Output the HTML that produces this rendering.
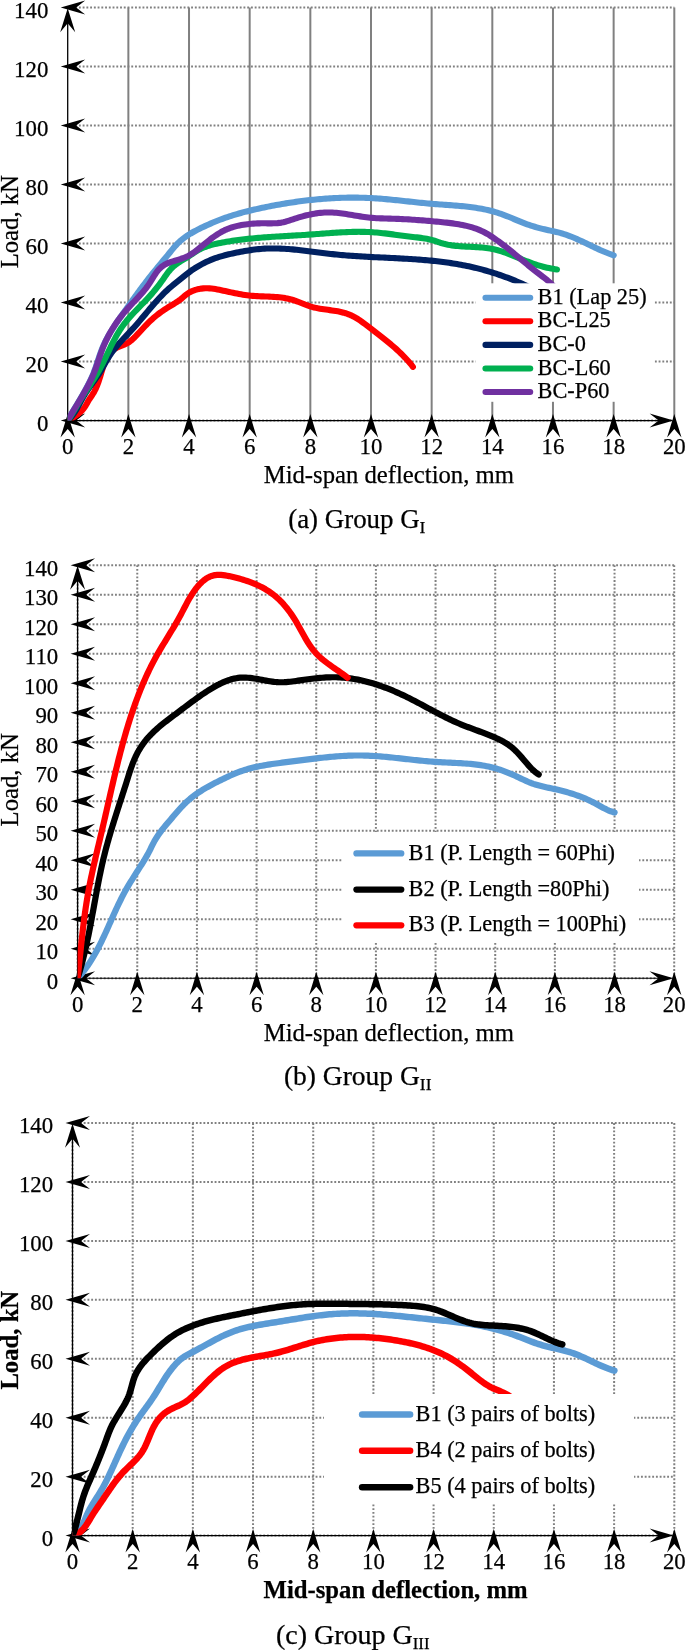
<!DOCTYPE html>
<html><head><meta charset="utf-8"><style>
html,body{margin:0;padding:0;background:#fff;}
svg{display:block;will-change:transform;}
text{font-family:"Liberation Serif",serif;fill:#000;white-space:pre;stroke:#000;stroke-width:0.25px;}
.tk{font-size:22.8px;}
.lg{font-size:22.3px;}
.ti{font-size:24.7px;}
.cp{}
</style></head><body>
<svg width="685" height="1650" viewBox="0 0 685 1650" xml:space="preserve">
<rect width="685" height="1650" fill="#fff"/>
<line x1="67.7" y1="420.6" x2="674.3" y2="420.6" stroke="#808080" stroke-width="2" stroke-dasharray="1.87 1.87"/>
<line x1="67.7" y1="361.6" x2="674.3" y2="361.6" stroke="#808080" stroke-width="2" stroke-dasharray="1.87 1.87"/>
<line x1="67.7" y1="302.6" x2="674.3" y2="302.6" stroke="#808080" stroke-width="2" stroke-dasharray="1.87 1.87"/>
<line x1="67.7" y1="243.6" x2="674.3" y2="243.6" stroke="#808080" stroke-width="2" stroke-dasharray="1.87 1.87"/>
<line x1="67.7" y1="184.6" x2="674.3" y2="184.6" stroke="#808080" stroke-width="2" stroke-dasharray="1.87 1.87"/>
<line x1="67.7" y1="125.6" x2="674.3" y2="125.6" stroke="#808080" stroke-width="2" stroke-dasharray="1.87 1.87"/>
<line x1="67.7" y1="66.6" x2="674.3" y2="66.6" stroke="#808080" stroke-width="2" stroke-dasharray="1.87 1.87"/>
<line x1="67.7" y1="7.6" x2="674.3" y2="7.6" stroke="#808080" stroke-width="2" stroke-dasharray="1.87 1.87"/>
<line x1="128.36" y1="7.6" x2="128.36" y2="420.6" stroke="#808080" stroke-width="2"/>
<line x1="189.02" y1="7.6" x2="189.02" y2="420.6" stroke="#808080" stroke-width="2"/>
<line x1="249.68" y1="7.6" x2="249.68" y2="420.6" stroke="#808080" stroke-width="2"/>
<line x1="310.34" y1="7.6" x2="310.34" y2="420.6" stroke="#808080" stroke-width="2"/>
<line x1="371" y1="7.6" x2="371" y2="420.6" stroke="#808080" stroke-width="2"/>
<line x1="431.66" y1="7.6" x2="431.66" y2="420.6" stroke="#808080" stroke-width="2"/>
<line x1="492.32" y1="7.6" x2="492.32" y2="420.6" stroke="#808080" stroke-width="2"/>
<line x1="552.98" y1="7.6" x2="552.98" y2="420.6" stroke="#808080" stroke-width="2"/>
<line x1="613.64" y1="7.6" x2="613.64" y2="420.6" stroke="#808080" stroke-width="2"/>
<line x1="674.3" y1="7.6" x2="674.3" y2="420.6" stroke="#808080" stroke-width="2"/>
<line x1="67.7" y1="15.6" x2="67.7" y2="420.6" stroke="#000" stroke-width="1.3"/>
<line x1="67.7" y1="420.6" x2="666.3" y2="420.6" stroke="#000" stroke-width="1.1"/>
<path d="M60.7,420.6 L85.2,413.6 L76.2,420.6 L85.2,427.6 Z"/>
<path d="M60.7,361.6 L85.2,354.6 L76.2,361.6 L85.2,368.6 Z"/>
<path d="M60.7,302.6 L85.2,295.6 L76.2,302.6 L85.2,309.6 Z"/>
<path d="M60.7,243.6 L85.2,236.6 L76.2,243.6 L85.2,250.6 Z"/>
<path d="M60.7,184.6 L85.2,177.6 L76.2,184.6 L85.2,191.6 Z"/>
<path d="M60.7,125.6 L85.2,118.6 L76.2,125.6 L85.2,132.6 Z"/>
<path d="M60.7,66.6 L85.2,59.6 L76.2,66.6 L85.2,73.6 Z"/>
<path d="M60.7,7.6 L85.2,0.6 L76.2,7.6 L85.2,14.6 Z"/>
<path d="M67.7,414.1 L60.5,437.6 L67.7,429.1 L74.9,437.6 Z"/>
<path d="M128.36,414.1 L121.16,437.6 L128.36,429.1 L135.56,437.6 Z"/>
<path d="M189.02,414.1 L181.82,437.6 L189.02,429.1 L196.22,437.6 Z"/>
<path d="M249.68,414.1 L242.48,437.6 L249.68,429.1 L256.88,437.6 Z"/>
<path d="M310.34,414.1 L303.14,437.6 L310.34,429.1 L317.54,437.6 Z"/>
<path d="M371,414.1 L363.8,437.6 L371,429.1 L378.2,437.6 Z"/>
<path d="M431.66,414.1 L424.46,437.6 L431.66,429.1 L438.86,437.6 Z"/>
<path d="M492.32,414.1 L485.12,437.6 L492.32,429.1 L499.52,437.6 Z"/>
<path d="M552.98,414.1 L545.78,437.6 L552.98,429.1 L560.18,437.6 Z"/>
<path d="M613.64,414.1 L606.44,437.6 L613.64,429.1 L620.84,437.6 Z"/>
<path d="M674.3,414.1 L667.1,437.6 L674.3,429.1 L681.5,437.6 Z"/>
<path d="M67.7,8.3 L60.2,32.3 L67.7,23.3 L75.2,32.3 Z"/>
<path d="M673.6,420.6 L649.6,413.6 L658.6,420.6 L649.6,427.6 Z"/>
<clipPath id="ca"><rect x="67.7" y="4.6" width="609.6" height="416"/></clipPath>
<g clip-path="url(#ca)">
<path d="M67.7,420.6 L68.65,418.84 L69.62,417.09 L70.6,415.34 L71.59,413.6 L72.6,411.87 L73.61,410.13 L74.63,408.4 L75.66,406.67 L76.68,404.95 L77.71,403.22 L78.74,401.49 L79.77,399.76 L80.79,398.03 L81.8,396.29 L82.81,394.56 L83.81,392.81 L84.79,391.06 L85.76,389.3 L86.71,387.54 L87.65,385.77 L88.57,383.99 L89.46,382.19 L90.33,380.39 L91.17,378.58 L91.99,376.75 L92.78,374.91 L93.54,373.06 L94.26,371.19 L94.95,369.31 L95.62,367.41 L96.27,365.51 L96.91,363.6 L97.54,361.69 L98.17,359.78 L98.8,357.87 L99.44,355.97 L100.1,354.07 L100.77,352.18 L101.47,350.31 L102.21,348.45 L102.98,346.61 L103.79,344.78 L104.63,342.97 L105.51,341.18 L106.42,339.41 L107.36,337.65 L108.33,335.9 L109.32,334.16 L110.34,332.44 L111.38,330.73 L112.45,329.03 L113.53,327.34 L114.63,325.66 L115.74,323.98 L116.87,322.32 L118.01,320.66 L119.16,319 L120.31,317.35 L121.48,315.71 L122.64,314.07 L123.81,312.43 L124.98,310.79 L126.15,309.15 L127.31,307.52 L128.48,305.88 L129.65,304.25 L130.81,302.62 L131.98,300.99 L133.15,299.36 L134.32,297.74 L135.49,296.11 L136.67,294.49 L137.84,292.87 L139.03,291.26 L140.21,289.65 L141.4,288.04 L142.6,286.43 L143.8,284.83 L145.01,283.24 L146.22,281.64 L147.44,280.05 L148.67,278.47 L149.9,276.89 L151.15,275.31 L152.4,273.74 L153.66,272.18 L154.93,270.61 L156.2,269.06 L157.48,267.5 L158.77,265.95 L160.05,264.4 L161.34,262.84 L162.63,261.29 L163.91,259.74 L165.2,258.19 L166.48,256.64 L167.76,255.08 L169.03,253.52 L170.29,251.96 L171.56,250.4 L172.83,248.86 L174.12,247.34 L175.44,245.84 L176.78,244.39 L178.16,242.98 L179.58,241.62 L181.05,240.32 L182.57,239.08 L184.12,237.88 L185.72,236.72 L187.35,235.61 L189.01,234.54 L190.7,233.5 L192.42,232.5 L194.16,231.53 L195.92,230.58 L197.71,229.65 L199.51,228.75 L201.32,227.86 L203.15,226.98 L204.98,226.12 L206.82,225.27 L208.67,224.43 L210.53,223.61 L212.39,222.8 L214.26,222.01 L216.14,221.24 L218.01,220.49 L219.9,219.77 L221.78,219.06 L223.67,218.37 L225.57,217.7 L227.47,217.05 L229.37,216.41 L231.27,215.8 L233.18,215.2 L235.09,214.62 L237.01,214.05 L238.93,213.5 L240.85,212.96 L242.78,212.43 L244.71,211.92 L246.64,211.43 L248.58,210.94 L250.52,210.47 L252.46,210 L254.4,209.55 L256.35,209.1 L258.3,208.67 L260.25,208.24 L262.21,207.83 L264.17,207.42 L266.13,207.01 L268.09,206.62 L270.05,206.23 L272.02,205.85 L273.99,205.47 L275.96,205.1 L277.94,204.74 L279.92,204.39 L281.89,204.05 L283.87,203.71 L285.86,203.38 L287.84,203.06 L289.83,202.75 L291.81,202.45 L293.8,202.15 L295.79,201.86 L297.78,201.58 L299.78,201.31 L301.77,201.05 L303.77,200.8 L305.77,200.55 L307.76,200.32 L309.76,200.09 L311.76,199.88 L313.76,199.67 L315.77,199.47 L317.77,199.28 L319.77,199.1 L321.78,198.93 L323.78,198.77 L325.79,198.63 L327.79,198.49 L329.8,198.36 L331.8,198.24 L333.81,198.13 L335.82,198.03 L337.82,197.94 L339.83,197.86 L341.84,197.79 L343.84,197.74 L345.85,197.69 L347.85,197.66 L349.86,197.63 L351.87,197.62 L353.87,197.62 L355.87,197.63 L357.88,197.65 L359.88,197.69 L361.88,197.73 L363.89,197.79 L365.89,197.85 L367.89,197.93 L369.89,198.03 L371.88,198.13 L373.88,198.25 L375.88,198.38 L377.87,198.51 L379.86,198.66 L381.86,198.82 L383.85,198.98 L385.84,199.16 L387.83,199.34 L389.83,199.53 L391.82,199.72 L393.81,199.92 L395.8,200.12 L397.79,200.33 L399.78,200.54 L401.78,200.75 L403.77,200.97 L405.76,201.18 L407.75,201.4 L409.75,201.62 L411.74,201.83 L413.74,202.05 L415.74,202.26 L417.73,202.47 L419.73,202.68 L421.73,202.88 L423.73,203.08 L425.74,203.27 L427.74,203.46 L429.75,203.64 L431.76,203.81 L433.76,203.97 L435.78,204.13 L437.79,204.28 L439.8,204.43 L441.82,204.58 L443.83,204.72 L445.85,204.86 L447.86,205 L449.87,205.15 L451.89,205.3 L453.9,205.45 L455.91,205.61 L457.92,205.78 L459.92,205.96 L461.93,206.14 L463.93,206.34 L465.93,206.55 L467.92,206.78 L469.91,207.01 L471.9,207.27 L473.89,207.55 L475.87,207.84 L477.84,208.15 L479.81,208.49 L481.77,208.85 L483.73,209.23 L485.68,209.64 L487.63,210.08 L489.57,210.54 L491.5,211.03 L493.43,211.56 L495.35,212.11 L497.26,212.7 L499.16,213.31 L501.06,213.96 L502.94,214.62 L504.82,215.32 L506.7,216.03 L508.56,216.77 L510.42,217.53 L512.27,218.31 L514.12,219.1 L515.96,219.89 L517.81,220.67 L519.66,221.43 L521.52,222.18 L523.39,222.9 L525.26,223.6 L527.14,224.27 L529.03,224.93 L530.93,225.56 L532.83,226.17 L534.75,226.75 L536.67,227.32 L538.6,227.86 L540.53,228.37 L542.48,228.86 L544.43,229.33 L546.4,229.78 L548.37,230.21 L550.34,230.63 L552.31,231.05 L554.28,231.47 L556.25,231.92 L558.2,232.39 L560.14,232.9 L562.07,233.45 L563.98,234.05 L565.88,234.68 L567.76,235.34 L569.63,236.04 L571.49,236.77 L573.34,237.53 L575.19,238.31 L577.02,239.11 L578.85,239.93 L580.67,240.76 L582.49,241.61 L584.31,242.47 L586.12,243.34 L587.93,244.21 L589.74,245.08 L591.55,245.95 L593.36,246.82 L595.18,247.68 L597,248.53 L598.82,249.37 L600.65,250.2 L602.48,251 L604.33,251.79 L606.18,252.55 L608.04,253.28 L609.92,253.99 L611.8,254.66 L613.7,255.3" fill="none" stroke="#5B9BD5" stroke-width="6.1" stroke-linecap="round" stroke-linejoin="round"/>
<path d="M67.7,420.6 L69.39,419.7 L71.12,418.74 L72.85,417.7 L74.57,416.6 L76.27,415.43 L77.92,414.19 L79.5,412.88 L81,411.5 L82.4,410.06 L83.68,408.54 L84.82,406.96 L85.83,405.32 L86.78,403.64 L87.73,401.92 L88.75,400.19 L89.89,398.46 L91.09,396.73 L92.27,394.99 L93.37,393.23 L94.37,391.46 L95.29,389.66 L96.13,387.86 L96.91,386.04 L97.63,384.2 L98.3,382.35 L98.94,380.49 L99.55,378.61 L100.14,376.72 L100.71,374.82 L101.29,372.91 L101.87,370.98 L102.46,369.05 L103.09,367.11 L103.74,365.16 L104.44,363.2 L105.2,361.24 L106.02,359.31 L106.92,357.44 L107.93,355.65 L109.04,353.96 L110.27,352.4 L111.65,350.99 L113.17,349.77 L114.84,348.71 L116.61,347.79 L118.47,346.97 L120.37,346.2 L122.28,345.44 L124.18,344.67 L126.02,343.83 L127.78,342.89 L129.44,341.82 L131,340.63 L132.48,339.35 L133.92,338 L135.33,336.6 L136.72,335.17 L138.1,333.71 L139.46,332.23 L140.82,330.73 L142.19,329.23 L143.56,327.74 L144.94,326.25 L146.34,324.78 L147.76,323.33 L149.21,321.91 L150.68,320.52 L152.18,319.16 L153.7,317.82 L155.24,316.52 L156.81,315.24 L158.4,314 L160.01,312.78 L161.64,311.6 L163.3,310.45 L164.97,309.33 L166.67,308.25 L168.38,307.19 L170.11,306.16 L171.84,305.13 L173.56,304.09 L175.27,303.03 L176.96,301.93 L178.61,300.78 L180.23,299.57 L181.8,298.29 L183.35,296.98 L184.91,295.68 L186.5,294.42 L188.14,293.26 L189.86,292.22 L191.65,291.31 L193.5,290.54 L195.41,289.88 L197.36,289.34 L199.35,288.92 L201.37,288.61 L203.4,288.4 L205.44,288.29 L207.48,288.28 L209.51,288.37 L211.51,288.53 L213.5,288.78 L215.46,289.09 L217.42,289.44 L219.37,289.83 L221.32,290.23 L223.28,290.65 L225.23,291.08 L227.19,291.5 L229.15,291.93 L231.12,292.36 L233.09,292.78 L235.06,293.18 L237.03,293.58 L239.01,293.96 L241,294.32 L242.99,294.65 L244.99,294.96 L246.99,295.24 L249,295.49 L251.01,295.7 L253.03,295.88 L255.06,296.02 L257.08,296.14 L259.12,296.24 L261.15,296.33 L263.18,296.41 L265.22,296.48 L267.25,296.56 L269.28,296.64 L271.3,296.73 L273.32,296.84 L275.34,296.97 L277.35,297.13 L279.35,297.32 L281.34,297.55 L283.32,297.81 L285.29,298.13 L287.25,298.5 L289.2,298.93 L291.13,299.42 L293.05,299.98 L294.96,300.6 L296.85,301.29 L298.73,302.01 L300.61,302.76 L302.49,303.52 L304.37,304.28 L306.26,305.01 L308.16,305.7 L310.07,306.34 L312.01,306.92 L313.96,307.43 L315.92,307.88 L317.9,308.29 L319.89,308.65 L321.88,308.98 L323.89,309.28 L325.89,309.56 L327.89,309.84 L329.9,310.11 L331.89,310.4 L333.88,310.69 L335.86,311.01 L337.83,311.36 L339.79,311.75 L341.72,312.18 L343.64,312.67 L345.54,313.22 L347.41,313.85 L349.25,314.55 L351.07,315.33 L352.86,316.2 L354.62,317.14 L356.36,318.14 L358.08,319.2 L359.77,320.31 L361.46,321.46 L363.12,322.65 L364.78,323.87 L366.42,325.11 L368.05,326.37 L369.68,327.63 L371.3,328.89 L372.91,330.14 L374.52,331.4 L376.13,332.64 L377.74,333.89 L379.33,335.13 L380.92,336.37 L382.51,337.62 L384.08,338.87 L385.65,340.12 L387.2,341.38 L388.75,342.65 L390.29,343.93 L391.81,345.21 L393.33,346.51 L394.83,347.83 L396.32,349.15 L397.79,350.5 L399.25,351.86 L400.69,353.24 L402.12,354.65 L403.53,356.07 L404.93,357.52 L406.31,359 L407.66,360.5 L409,362.03 L410.32,363.59 L411.62,365.18 L412.9,366.8" fill="none" stroke="#FF0000" stroke-width="6.1" stroke-linecap="round" stroke-linejoin="round"/>
<path d="M67.7,420.6 L69.19,419.18 L70.57,417.69 L71.87,416.16 L73.08,414.57 L74.23,412.94 L75.32,411.27 L76.35,409.57 L77.35,407.84 L78.31,406.1 L79.26,404.34 L80.2,402.57 L81.13,400.8 L82.08,399.04 L83.05,397.29 L84.05,395.56 L85.09,393.85 L86.17,392.16 L87.28,390.49 L88.42,388.84 L89.58,387.19 L90.75,385.56 L91.94,383.93 L93.13,382.3 L94.31,380.66 L95.49,379.02 L96.65,377.37 L97.78,375.71 L98.9,374.03 L99.98,372.32 L101.02,370.6 L102.03,368.85 L103.03,367.1 L104.01,365.34 L104.98,363.57 L105.96,361.81 L106.95,360.07 L107.97,358.34 L109.01,356.63 L110.09,354.94 L111.21,353.29 L112.37,351.67 L113.57,350.08 L114.8,348.51 L116.07,346.96 L117.36,345.43 L118.67,343.92 L120.01,342.43 L121.36,340.94 L122.73,339.47 L124.1,338 L125.49,336.54 L126.87,335.07 L128.26,333.61 L129.64,332.14 L131.02,330.67 L132.39,329.19 L133.74,327.7 L135.08,326.2 L136.42,324.69 L137.74,323.17 L139.05,321.64 L140.35,320.11 L141.65,318.57 L142.95,317.03 L144.24,315.49 L145.54,313.94 L146.83,312.4 L148.12,310.86 L149.42,309.32 L150.72,307.78 L152.03,306.25 L153.34,304.72 L154.66,303.21 L155.99,301.7 L157.34,300.2 L158.69,298.72 L160.06,297.25 L161.45,295.8 L162.85,294.36 L164.27,292.95 L165.71,291.56 L167.17,290.19 L168.65,288.85 L170.16,287.53 L171.69,286.24 L173.24,284.98 L174.8,283.73 L176.37,282.48 L177.93,281.23 L179.49,279.98 L181.04,278.71 L182.59,277.44 L184.14,276.17 L185.7,274.91 L187.27,273.67 L188.86,272.46 L190.47,271.27 L192.11,270.11 L193.77,268.99 L195.46,267.9 L197.17,266.85 L198.9,265.83 L200.65,264.84 L202.42,263.89 L204.21,262.97 L206.02,262.09 L207.84,261.25 L209.68,260.44 L211.54,259.67 L213.41,258.93 L215.29,258.23 L217.19,257.57 L219.09,256.95 L221.01,256.37 L222.94,255.81 L224.88,255.29 L226.82,254.79 L228.78,254.32 L230.74,253.87 L232.71,253.43 L234.68,253 L236.66,252.59 L238.64,252.19 L240.62,251.8 L242.61,251.43 L244.6,251.07 L246.6,250.73 L248.6,250.41 L250.6,250.11 L252.6,249.83 L254.6,249.57 L256.61,249.34 L258.61,249.13 L260.61,248.94 L262.62,248.79 L264.62,248.66 L266.63,248.56 L268.63,248.49 L270.63,248.44 L272.63,248.43 L274.63,248.43 L276.64,248.46 L278.64,248.51 L280.64,248.59 L282.63,248.68 L284.63,248.79 L286.63,248.92 L288.63,249.07 L290.63,249.23 L292.63,249.41 L294.63,249.59 L296.63,249.8 L298.62,250.01 L300.62,250.23 L302.62,250.46 L304.62,250.7 L306.62,250.94 L308.62,251.19 L310.62,251.44 L312.62,251.69 L314.62,251.95 L316.62,252.21 L318.62,252.46 L320.62,252.72 L322.63,252.97 L324.63,253.22 L326.63,253.46 L328.64,253.7 L330.64,253.93 L332.65,254.15 L334.66,254.36 L336.67,254.56 L338.67,254.75 L340.68,254.94 L342.69,255.11 L344.7,255.28 L346.72,255.45 L348.73,255.6 L350.74,255.75 L352.75,255.89 L354.77,256.03 L356.78,256.16 L358.79,256.29 L360.81,256.41 L362.82,256.53 L364.84,256.65 L366.85,256.76 L368.87,256.87 L370.88,256.97 L372.9,257.08 L374.91,257.18 L376.93,257.28 L378.94,257.38 L380.96,257.47 L382.97,257.57 L384.99,257.67 L387,257.76 L389.01,257.86 L391.03,257.96 L393.04,258.06 L395.05,258.16 L397.06,258.26 L399.08,258.37 L401.09,258.47 L403.1,258.58 L405.11,258.7 L407.12,258.82 L409.12,258.94 L411.13,259.07 L413.14,259.2 L415.14,259.33 L417.15,259.48 L419.15,259.63 L421.16,259.78 L423.16,259.94 L425.16,260.11 L427.16,260.29 L429.16,260.47 L431.15,260.66 L433.15,260.86 L435.15,261.07 L437.14,261.29 L439.13,261.52 L441.12,261.76 L443.11,262 L445.1,262.26 L447.08,262.53 L449.07,262.82 L451.05,263.11 L453.03,263.41 L455.01,263.73 L456.99,264.06 L458.96,264.41 L460.94,264.76 L462.91,265.14 L464.88,265.52 L466.85,265.92 L468.81,266.34 L470.78,266.77 L472.74,267.21 L474.7,267.67 L476.65,268.15 L478.61,268.64 L480.56,269.14 L482.5,269.66 L484.45,270.2 L486.39,270.74 L488.32,271.31 L490.25,271.88 L492.18,272.47 L494.1,273.08 L496.02,273.7 L497.94,274.34 L499.85,274.99 L501.75,275.65 L503.65,276.33 L505.55,277.02 L507.44,277.73 L509.32,278.45 L511.2,279.18 L513.07,279.93 L514.93,280.69 L516.79,281.47 L518.64,282.26 L520.49,283.06 L522.33,283.88 L524.16,284.72 L525.99,285.56 L527.81,286.42 L529.62,287.3 L531.42,288.18 L533.21,289.09 L535,290" fill="none" stroke="#002060" stroke-width="6.1" stroke-linecap="round" stroke-linejoin="round"/>
<path d="M67.7,420.6 L68.85,418.96 L69.97,417.29 L71.06,415.6 L72.12,413.9 L73.17,412.17 L74.19,410.44 L75.21,408.69 L76.23,406.95 L77.24,405.2 L78.26,403.45 L79.28,401.71 L80.32,399.98 L81.37,398.26 L82.45,396.56 L83.53,394.86 L84.63,393.17 L85.73,391.49 L86.84,389.82 L87.95,388.14 L89.06,386.47 L90.17,384.8 L91.27,383.12 L92.36,381.44 L93.45,379.76 L94.52,378.06 L95.57,376.36 L96.6,374.64 L97.62,372.92 L98.61,371.17 L99.57,369.42 L100.52,367.65 L101.45,365.86 L102.36,364.07 L103.26,362.27 L104.15,360.47 L105.03,358.66 L105.9,356.84 L106.77,355.02 L107.64,353.21 L108.51,351.39 L109.38,349.57 L110.25,347.76 L111.14,345.96 L112.03,344.16 L112.94,342.37 L113.86,340.59 L114.8,338.82 L115.76,337.06 L116.74,335.32 L117.74,333.59 L118.78,331.88 L119.84,330.19 L120.93,328.52 L122.05,326.88 L123.21,325.25 L124.41,323.65 L125.65,322.07 L126.91,320.52 L128.21,318.98 L129.53,317.46 L130.87,315.95 L132.23,314.46 L133.62,312.98 L135.01,311.51 L136.42,310.04 L137.83,308.59 L139.25,307.13 L140.67,305.68 L142.09,304.22 L143.5,302.77 L144.91,301.31 L146.31,299.85 L147.7,298.37 L149.07,296.89 L150.42,295.4 L151.75,293.89 L153.06,292.37 L154.35,290.83 L155.61,289.28 L156.86,287.71 L158.09,286.13 L159.31,284.54 L160.51,282.93 L161.69,281.3 L162.85,279.65 L164.01,277.99 L165.16,276.33 L166.32,274.68 L167.51,273.06 L168.73,271.47 L170,269.94 L171.33,268.48 L172.73,267.09 L174.2,265.8 L175.75,264.58 L177.36,263.43 L179.02,262.33 L180.71,261.27 L182.44,260.22 L184.17,259.19 L185.91,258.14 L187.64,257.08 L189.34,255.98 L191.03,254.84 L192.71,253.7 L194.4,252.57 L196.09,251.47 L197.8,250.42 L199.55,249.45 L201.33,248.56 L203.15,247.75 L204.99,247.01 L206.86,246.33 L208.76,245.71 L210.67,245.14 L212.61,244.62 L214.55,244.14 L216.51,243.7 L218.48,243.28 L220.46,242.89 L222.43,242.51 L224.41,242.15 L226.39,241.8 L228.37,241.47 L230.36,241.15 L232.34,240.84 L234.33,240.55 L236.32,240.27 L238.31,240 L240.31,239.74 L242.3,239.49 L244.3,239.26 L246.29,239.03 L248.29,238.82 L250.29,238.61 L252.29,238.42 L254.3,238.23 L256.3,238.05 L258.3,237.87 L260.31,237.71 L262.32,237.55 L264.32,237.4 L266.33,237.25 L268.34,237.11 L270.35,236.97 L272.36,236.83 L274.37,236.71 L276.38,236.58 L278.39,236.46 L280.41,236.34 L282.42,236.22 L284.43,236.1 L286.45,235.98 L288.46,235.87 L290.47,235.75 L292.49,235.64 L294.5,235.52 L296.51,235.41 L298.53,235.29 L300.54,235.17 L302.55,235.05 L304.56,234.92 L306.58,234.79 L308.59,234.66 L310.6,234.52 L312.61,234.38 L314.62,234.23 L316.63,234.08 L318.64,233.93 L320.65,233.78 L322.66,233.63 L324.67,233.47 L326.67,233.32 L328.68,233.17 L330.69,233.03 L332.69,232.89 L334.7,232.75 L336.71,232.62 L338.71,232.5 L340.72,232.38 L342.72,232.27 L344.73,232.18 L346.73,232.09 L348.74,232.01 L350.74,231.95 L352.75,231.89 L354.75,231.86 L356.76,231.83 L358.76,231.82 L360.76,231.83 L362.77,231.86 L364.77,231.9 L366.78,231.96 L368.78,232.05 L370.79,232.15 L372.79,232.28 L374.8,232.42 L376.8,232.58 L378.81,232.77 L380.81,232.96 L382.82,233.17 L384.82,233.4 L386.83,233.63 L388.83,233.88 L390.84,234.13 L392.84,234.38 L394.85,234.65 L396.85,234.91 L398.85,235.18 L400.85,235.44 L402.85,235.71 L404.85,235.97 L406.85,236.22 L408.85,236.47 L410.85,236.71 L412.85,236.95 L414.84,237.17 L416.84,237.4 L418.83,237.64 L420.81,237.89 L422.79,238.17 L424.76,238.48 L426.73,238.83 L428.68,239.22 L430.62,239.67 L432.56,240.18 L434.48,240.75 L436.39,241.4 L438.29,242.08 L440.2,242.73 L442.12,243.32 L444.06,243.84 L446.01,244.31 L447.97,244.71 L449.94,245.06 L451.92,245.37 L453.91,245.63 L455.91,245.86 L457.92,246.05 L459.93,246.21 L461.95,246.35 L463.96,246.47 L465.99,246.58 L468.01,246.68 L470.03,246.78 L472.06,246.87 L474.08,246.97 L476.1,247.08 L478.11,247.2 L480.12,247.35 L482.12,247.52 L484.12,247.71 L486.11,247.94 L488.09,248.21 L490.06,248.53 L492.02,248.89 L493.96,249.3 L495.9,249.76 L497.82,250.27 L499.74,250.83 L501.64,251.42 L503.54,252.05 L505.43,252.71 L507.31,253.4 L509.19,254.12 L511.06,254.85 L512.93,255.6 L514.8,256.36 L516.67,257.13 L518.54,257.9 L520.4,258.68 L522.27,259.45 L524.14,260.22 L526.02,260.97 L527.9,261.71 L529.78,262.43 L531.67,263.12 L533.57,263.79 L535.47,264.44 L537.39,265.05 L539.31,265.63 L541.24,266.18 L543.17,266.71 L545.12,267.2 L547.08,267.66 L549.04,268.09 L551.02,268.49 L553,268.86 L555,269.2 L557,269.5" fill="none" stroke="#00B050" stroke-width="6.1" stroke-linecap="round" stroke-linejoin="round"/>
<path d="M67.7,420.6 L68.67,418.85 L69.65,417.11 L70.65,415.38 L71.66,413.64 L72.68,411.91 L73.71,410.18 L74.74,408.46 L75.78,406.73 L76.83,405 L77.87,403.27 L78.91,401.54 L79.95,399.81 L80.99,398.08 L82.02,396.34 L83.04,394.6 L84.05,392.85 L85.05,391.1 L86.03,389.34 L87,387.57 L87.94,385.8 L88.87,384.01 L89.78,382.22 L90.66,380.42 L91.52,378.61 L92.35,376.79 L93.15,374.95 L93.92,373.1 L94.66,371.24 L95.36,369.37 L96.04,367.49 L96.7,365.6 L97.35,363.7 L97.98,361.8 L98.62,359.9 L99.25,357.99 L99.89,356.09 L100.53,354.19 L101.2,352.3 L101.88,350.41 L102.6,348.53 L103.34,346.67 L104.12,344.81 L104.93,342.97 L105.77,341.14 L106.64,339.32 L107.54,337.52 L108.47,335.73 L109.43,333.96 L110.42,332.2 L111.44,330.46 L112.48,328.73 L113.56,327.01 L114.65,325.32 L115.78,323.64 L116.93,321.98 L118.1,320.33 L119.29,318.71 L120.51,317.1 L121.76,315.51 L123.02,313.94 L124.31,312.39 L125.61,310.86 L126.94,309.35 L128.28,307.86 L129.64,306.38 L131,304.92 L132.38,303.46 L133.76,302.01 L135.13,300.55 L136.51,299.1 L137.88,297.63 L139.23,296.16 L140.58,294.68 L141.9,293.18 L143.21,291.66 L144.49,290.12 L145.75,288.55 L146.97,286.95 L148.16,285.31 L149.31,283.64 L150.43,281.93 L151.51,280.2 L152.57,278.45 L153.64,276.71 L154.71,274.99 L155.82,273.32 L156.98,271.71 L158.2,270.18 L159.5,268.76 L160.89,267.44 L162.37,266.25 L163.94,265.17 L165.61,264.21 L167.35,263.36 L169.18,262.61 L171.06,261.94 L172.99,261.33 L174.94,260.74 L176.9,260.15 L178.85,259.55 L180.79,258.92 L182.7,258.25 L184.58,257.53 L186.43,256.74 L188.22,255.88 L189.96,254.94 L191.66,253.91 L193.31,252.82 L194.93,251.67 L196.52,250.47 L198.1,249.24 L199.67,247.98 L201.23,246.7 L202.8,245.41 L204.38,244.12 L205.96,242.83 L207.55,241.55 L209.15,240.28 L210.76,239.03 L212.39,237.81 L214.03,236.61 L215.69,235.45 L217.37,234.34 L219.08,233.27 L220.8,232.25 L222.56,231.29 L224.34,230.4 L226.15,229.58 L227.98,228.81 L229.84,228.11 L231.72,227.46 L233.63,226.88 L235.55,226.34 L237.49,225.86 L239.45,225.43 L241.42,225.05 L243.4,224.71 L245.39,224.41 L247.4,224.16 L249.41,223.94 L251.42,223.76 L253.44,223.61 L255.47,223.5 L257.49,223.41 L259.52,223.35 L261.54,223.32 L263.56,223.31 L265.57,223.32 L267.57,223.34 L269.57,223.35 L271.56,223.35 L273.55,223.31 L275.52,223.24 L277.49,223.1 L279.45,222.9 L281.4,222.61 L283.34,222.22 L285.27,221.74 L287.19,221.18 L289.11,220.58 L291.04,219.94 L292.96,219.29 L294.89,218.66 L296.82,218.04 L298.76,217.45 L300.71,216.87 L302.66,216.33 L304.62,215.8 L306.58,215.31 L308.54,214.85 L310.51,214.42 L312.48,214.03 L314.45,213.68 L316.43,213.36 L318.41,213.09 L320.4,212.87 L322.38,212.69 L324.37,212.55 L326.36,212.47 L328.35,212.45 L330.34,212.47 L332.33,212.55 L334.32,212.67 L336.32,212.82 L338.31,213.02 L340.31,213.25 L342.31,213.5 L344.31,213.78 L346.31,214.08 L348.31,214.39 L350.31,214.72 L352.31,215.05 L354.32,215.39 L356.32,215.72 L358.32,216.05 L360.33,216.37 L362.34,216.68 L364.34,216.98 L366.35,217.25 L368.36,217.49 L370.37,217.71 L372.37,217.9 L374.38,218.05 L376.39,218.17 L378.4,218.27 L380.41,218.35 L382.42,218.42 L384.43,218.48 L386.44,218.53 L388.45,218.58 L390.45,218.63 L392.46,218.69 L394.46,218.76 L396.47,218.83 L398.47,218.92 L400.47,219 L402.48,219.1 L404.48,219.2 L406.48,219.31 L408.48,219.42 L410.48,219.54 L412.49,219.67 L414.49,219.8 L416.49,219.94 L418.49,220.09 L420.5,220.24 L422.5,220.39 L424.5,220.55 L426.51,220.72 L428.52,220.89 L430.52,221.06 L432.53,221.24 L434.54,221.43 L436.55,221.61 L438.56,221.81 L440.58,222 L442.59,222.21 L444.61,222.42 L446.62,222.63 L448.64,222.86 L450.65,223.11 L452.66,223.37 L454.66,223.65 L456.65,223.95 L458.64,224.28 L460.62,224.63 L462.59,225.02 L464.56,225.43 L466.51,225.88 L468.44,226.36 L470.37,226.88 L472.28,227.45 L474.18,228.05 L476.05,228.71 L477.92,229.41 L479.76,230.16 L481.58,230.97 L483.39,231.83 L485.17,232.75 L486.93,233.72 L488.67,234.74 L490.39,235.8 L492.09,236.9 L493.78,238.04 L495.45,239.2 L497.11,240.37 L498.75,241.57 L500.38,242.77 L502,243.99 L503.6,245.21 L505.2,246.45 L506.78,247.69 L508.36,248.94 L509.93,250.2 L511.49,251.47 L513.05,252.74 L514.61,254.01 L516.15,255.29 L517.7,256.57 L519.25,257.85 L520.79,259.13 L522.33,260.41 L523.88,261.69 L525.42,262.97 L526.97,264.25 L528.52,265.52 L530.08,266.79 L531.64,268.05 L533.21,269.31 L534.79,270.56 L536.37,271.8 L537.97,273.03 L539.57,274.26 L541.17,275.48 L542.78,276.71 L544.37,277.94 L545.95,279.19 L547.51,280.47 L549.03,281.78 L550.53,283.12 L551.98,284.51 L553.37,285.94 L554.72,287.44 L556,289" fill="none" stroke="#7030A0" stroke-width="6.1" stroke-linecap="round" stroke-linejoin="round"/>
</g>
<rect x="475.5" y="283.3" width="179" height="118.5" fill="#fff"/>
<line x1="485.5" y1="297.7" x2="530.2" y2="297.7" stroke="#5B9BD5" stroke-width="6.1" stroke-linecap="round"/>
<text x="537.6" y="303.8" class="lg">B1 (Lap 25)</text>
<line x1="485.5" y1="321.3" x2="530.2" y2="321.3" stroke="#FF0000" stroke-width="6.1" stroke-linecap="round"/>
<text x="537.6" y="327.4" class="lg">BC-L25</text>
<line x1="485.5" y1="344.9" x2="530.2" y2="344.9" stroke="#002060" stroke-width="6.1" stroke-linecap="round"/>
<text x="537.6" y="351" class="lg">BC-0</text>
<line x1="485.5" y1="368.5" x2="530.2" y2="368.5" stroke="#00B050" stroke-width="6.1" stroke-linecap="round"/>
<text x="537.6" y="374.6" class="lg">BC-L60</text>
<line x1="485.5" y1="392" x2="530.2" y2="392" stroke="#7030A0" stroke-width="6.1" stroke-linecap="round"/>
<text x="537.6" y="398.1" class="lg">BC-P60</text>
<text x="48.3" y="431" class="tk" text-anchor="end">0</text>
<text x="48.3" y="372" class="tk" text-anchor="end">20</text>
<text x="48.3" y="313" class="tk" text-anchor="end">40</text>
<text x="48.3" y="254" class="tk" text-anchor="end">60</text>
<text x="48.3" y="195" class="tk" text-anchor="end">80</text>
<text x="48.3" y="136" class="tk" text-anchor="end">100</text>
<text x="48.3" y="77" class="tk" text-anchor="end">120</text>
<text x="48.3" y="18" class="tk" text-anchor="end">140</text>
<text x="67.7" y="454.2" class="tk" text-anchor="middle">0</text>
<text x="128.36" y="454.2" class="tk" text-anchor="middle">2</text>
<text x="189.02" y="454.2" class="tk" text-anchor="middle">4</text>
<text x="249.68" y="454.2" class="tk" text-anchor="middle">6</text>
<text x="310.34" y="454.2" class="tk" text-anchor="middle">8</text>
<text x="371" y="454.2" class="tk" text-anchor="middle">10</text>
<text x="431.66" y="454.2" class="tk" text-anchor="middle">12</text>
<text x="492.32" y="454.2" class="tk" text-anchor="middle">14</text>
<text x="552.98" y="454.2" class="tk" text-anchor="middle">16</text>
<text x="613.64" y="454.2" class="tk" text-anchor="middle">18</text>
<text x="674.3" y="454.2" class="tk" text-anchor="middle">20</text>
<text x="263.7" y="482.8" class="ti">Mid-span deflection, mm</text>
<text transform="translate(17.8,268.3) rotate(-90)" x="0" y="0" class="ti">Load, kN</text>
<text x="288.2" y="527.6" class="cp" font-size="26.9">(a) Group G<tspan font-size="17.5" dy="5">I</tspan></text>
<line x1="77.6" y1="978.3" x2="674.2" y2="978.3" stroke="#808080" stroke-width="2" stroke-dasharray="1.87 1.87"/>
<line x1="77.6" y1="948.79" x2="674.2" y2="948.79" stroke="#808080" stroke-width="2" stroke-dasharray="1.87 1.87"/>
<line x1="77.6" y1="919.28" x2="674.2" y2="919.28" stroke="#808080" stroke-width="2" stroke-dasharray="1.87 1.87"/>
<line x1="77.6" y1="889.77" x2="674.2" y2="889.77" stroke="#808080" stroke-width="2" stroke-dasharray="1.87 1.87"/>
<line x1="77.6" y1="860.26" x2="674.2" y2="860.26" stroke="#808080" stroke-width="2" stroke-dasharray="1.87 1.87"/>
<line x1="77.6" y1="830.75" x2="674.2" y2="830.75" stroke="#808080" stroke-width="2" stroke-dasharray="1.87 1.87"/>
<line x1="77.6" y1="801.24" x2="674.2" y2="801.24" stroke="#808080" stroke-width="2" stroke-dasharray="1.87 1.87"/>
<line x1="77.6" y1="771.73" x2="674.2" y2="771.73" stroke="#808080" stroke-width="2" stroke-dasharray="1.87 1.87"/>
<line x1="77.6" y1="742.22" x2="674.2" y2="742.22" stroke="#808080" stroke-width="2" stroke-dasharray="1.87 1.87"/>
<line x1="77.6" y1="712.71" x2="674.2" y2="712.71" stroke="#808080" stroke-width="2" stroke-dasharray="1.87 1.87"/>
<line x1="77.6" y1="683.2" x2="674.2" y2="683.2" stroke="#808080" stroke-width="2" stroke-dasharray="1.87 1.87"/>
<line x1="77.6" y1="653.69" x2="674.2" y2="653.69" stroke="#808080" stroke-width="2" stroke-dasharray="1.87 1.87"/>
<line x1="77.6" y1="624.18" x2="674.2" y2="624.18" stroke="#808080" stroke-width="2" stroke-dasharray="1.87 1.87"/>
<line x1="77.6" y1="594.67" x2="674.2" y2="594.67" stroke="#808080" stroke-width="2" stroke-dasharray="1.87 1.87"/>
<line x1="77.6" y1="565.16" x2="674.2" y2="565.16" stroke="#808080" stroke-width="2" stroke-dasharray="1.87 1.87"/>
<line x1="137.26" y1="565.16" x2="137.26" y2="978.3" stroke="#808080" stroke-width="2" stroke-dasharray="1.87 1.87"/>
<line x1="196.92" y1="565.16" x2="196.92" y2="978.3" stroke="#808080" stroke-width="2" stroke-dasharray="1.87 1.87"/>
<line x1="256.58" y1="565.16" x2="256.58" y2="978.3" stroke="#808080" stroke-width="2" stroke-dasharray="1.87 1.87"/>
<line x1="316.24" y1="565.16" x2="316.24" y2="978.3" stroke="#808080" stroke-width="2" stroke-dasharray="1.87 1.87"/>
<line x1="375.9" y1="565.16" x2="375.9" y2="978.3" stroke="#808080" stroke-width="2" stroke-dasharray="1.87 1.87"/>
<line x1="435.56" y1="565.16" x2="435.56" y2="978.3" stroke="#808080" stroke-width="2" stroke-dasharray="1.87 1.87"/>
<line x1="495.22" y1="565.16" x2="495.22" y2="978.3" stroke="#808080" stroke-width="2" stroke-dasharray="1.87 1.87"/>
<line x1="554.88" y1="565.16" x2="554.88" y2="978.3" stroke="#808080" stroke-width="2" stroke-dasharray="1.87 1.87"/>
<line x1="614.54" y1="565.16" x2="614.54" y2="978.3" stroke="#808080" stroke-width="2" stroke-dasharray="1.87 1.87"/>
<line x1="674.2" y1="565.16" x2="674.2" y2="978.3" stroke="#808080" stroke-width="2" stroke-dasharray="1.87 1.87"/>
<line x1="77.6" y1="565.16" x2="77.6" y2="978.3" stroke="#808080" stroke-width="2" stroke-dasharray="1.87 1.87"/>
<line x1="77.6" y1="573.16" x2="77.6" y2="978.3" stroke="#000" stroke-width="1.3"/>
<line x1="77.6" y1="978.3" x2="666.2" y2="978.3" stroke="#000" stroke-width="1.1"/>
<path d="M70.6,978.3 L95.1,971.3 L86.1,978.3 L95.1,985.3 Z"/>
<path d="M70.6,948.79 L95.1,941.79 L86.1,948.79 L95.1,955.79 Z"/>
<path d="M70.6,919.28 L95.1,912.28 L86.1,919.28 L95.1,926.28 Z"/>
<path d="M70.6,889.77 L95.1,882.77 L86.1,889.77 L95.1,896.77 Z"/>
<path d="M70.6,860.26 L95.1,853.26 L86.1,860.26 L95.1,867.26 Z"/>
<path d="M70.6,830.75 L95.1,823.75 L86.1,830.75 L95.1,837.75 Z"/>
<path d="M70.6,801.24 L95.1,794.24 L86.1,801.24 L95.1,808.24 Z"/>
<path d="M70.6,771.73 L95.1,764.73 L86.1,771.73 L95.1,778.73 Z"/>
<path d="M70.6,742.22 L95.1,735.22 L86.1,742.22 L95.1,749.22 Z"/>
<path d="M70.6,712.71 L95.1,705.71 L86.1,712.71 L95.1,719.71 Z"/>
<path d="M70.6,683.2 L95.1,676.2 L86.1,683.2 L95.1,690.2 Z"/>
<path d="M70.6,653.69 L95.1,646.69 L86.1,653.69 L95.1,660.69 Z"/>
<path d="M70.6,624.18 L95.1,617.18 L86.1,624.18 L95.1,631.18 Z"/>
<path d="M70.6,594.67 L95.1,587.67 L86.1,594.67 L95.1,601.67 Z"/>
<path d="M70.6,565.16 L95.1,558.16 L86.1,565.16 L95.1,572.16 Z"/>
<path d="M77.6,971.8 L70.4,995.3 L77.6,986.8 L84.8,995.3 Z"/>
<path d="M137.26,971.8 L130.06,995.3 L137.26,986.8 L144.46,995.3 Z"/>
<path d="M196.92,971.8 L189.72,995.3 L196.92,986.8 L204.12,995.3 Z"/>
<path d="M256.58,971.8 L249.38,995.3 L256.58,986.8 L263.78,995.3 Z"/>
<path d="M316.24,971.8 L309.04,995.3 L316.24,986.8 L323.44,995.3 Z"/>
<path d="M375.9,971.8 L368.7,995.3 L375.9,986.8 L383.1,995.3 Z"/>
<path d="M435.56,971.8 L428.36,995.3 L435.56,986.8 L442.76,995.3 Z"/>
<path d="M495.22,971.8 L488.02,995.3 L495.22,986.8 L502.42,995.3 Z"/>
<path d="M554.88,971.8 L547.68,995.3 L554.88,986.8 L562.08,995.3 Z"/>
<path d="M614.54,971.8 L607.34,995.3 L614.54,986.8 L621.74,995.3 Z"/>
<path d="M674.2,971.8 L667,995.3 L674.2,986.8 L681.4,995.3 Z"/>
<path d="M77.6,565.86 L70.1,589.86 L77.6,580.86 L85.1,589.86 Z"/>
<path d="M673.5,978.3 L649.5,971.3 L658.5,978.3 L649.5,985.3 Z"/>
<clipPath id="cb"><rect x="77.6" y="562.16" width="599.6" height="416.14"/></clipPath>
<g clip-path="url(#cb)">
<path d="M77.6,978.3 L78.97,976.78 L80.31,975.24 L81.61,973.68 L82.88,972.1 L84.12,970.5 L85.34,968.89 L86.52,967.26 L87.68,965.62 L88.81,963.96 L89.91,962.28 L90.99,960.59 L92.05,958.89 L93.08,957.18 L94.09,955.45 L95.09,953.71 L96.06,951.96 L97.02,950.2 L97.96,948.43 L98.88,946.66 L99.79,944.87 L100.69,943.07 L101.58,941.27 L102.45,939.46 L103.31,937.65 L104.16,935.83 L105.01,934.01 L105.85,932.18 L106.68,930.35 L107.51,928.51 L108.33,926.67 L109.15,924.83 L109.97,922.99 L110.79,921.15 L111.6,919.31 L112.42,917.47 L113.25,915.63 L114.07,913.8 L114.9,911.96 L115.74,910.13 L116.59,908.3 L117.44,906.48 L118.3,904.66 L119.17,902.85 L120.05,901.04 L120.95,899.24 L121.85,897.45 L122.78,895.67 L123.71,893.89 L124.67,892.13 L125.64,890.37 L126.63,888.63 L127.63,886.89 L128.65,885.16 L129.69,883.44 L130.73,881.72 L131.79,880.01 L132.85,878.31 L133.92,876.61 L135,874.91 L136.08,873.21 L137.16,871.52 L138.24,869.82 L139.32,868.13 L140.4,866.43 L141.48,864.73 L142.55,863.03 L143.61,861.32 L144.66,859.61 L145.69,857.89 L146.7,856.15 L147.69,854.4 L148.64,852.62 L149.55,850.83 L150.45,849.02 L151.33,847.21 L152.22,845.41 L153.13,843.62 L154.07,841.85 L155.05,840.1 L156.07,838.39 L157.14,836.71 L158.25,835.05 L159.39,833.42 L160.57,831.81 L161.77,830.22 L163,828.64 L164.25,827.08 L165.52,825.53 L166.8,823.99 L168.1,822.45 L169.41,820.92 L170.72,819.4 L172.04,817.87 L173.35,816.34 L174.66,814.81 L175.97,813.28 L177.29,811.75 L178.61,810.23 L179.94,808.73 L181.29,807.24 L182.66,805.78 L184.05,804.35 L185.47,802.95 L186.91,801.59 L188.39,800.27 L189.89,798.98 L191.43,797.72 L192.99,796.49 L194.59,795.3 L196.21,794.14 L197.85,793 L199.52,791.89 L201.21,790.8 L202.92,789.74 L204.65,788.7 L206.4,787.69 L208.15,786.69 L209.93,785.71 L211.71,784.74 L213.5,783.8 L215.3,782.86 L217.11,781.94 L218.92,781.03 L220.73,780.13 L222.55,779.23 L224.37,778.35 L226.19,777.48 L228.01,776.62 L229.83,775.78 L231.67,774.96 L233.5,774.17 L235.35,773.39 L237.2,772.65 L239.06,771.93 L240.93,771.24 L242.82,770.59 L244.71,769.97 L246.61,769.38 L248.53,768.82 L250.45,768.3 L252.38,767.8 L254.32,767.33 L256.27,766.89 L258.22,766.46 L260.19,766.07 L262.16,765.69 L264.13,765.33 L266.11,764.98 L268.1,764.66 L270.09,764.35 L272.09,764.05 L274.09,763.76 L276.09,763.48 L278.09,763.21 L280.1,762.95 L282.11,762.69 L284.12,762.44 L286.13,762.19 L288.14,761.94 L290.15,761.68 L292.16,761.43 L294.17,761.17 L296.17,760.92 L298.18,760.66 L300.19,760.4 L302.2,760.14 L304.2,759.89 L306.21,759.63 L308.21,759.38 L310.21,759.13 L312.22,758.88 L314.22,758.64 L316.22,758.4 L318.23,758.17 L320.23,757.94 L322.23,757.72 L324.23,757.51 L326.23,757.3 L328.23,757.11 L330.23,756.92 L332.23,756.74 L334.23,756.56 L336.23,756.4 L338.23,756.25 L340.23,756.12 L342.23,755.99 L344.23,755.88 L346.23,755.78 L348.22,755.69 L350.22,755.62 L352.22,755.56 L354.22,755.52 L356.22,755.49 L358.22,755.48 L360.21,755.49 L362.21,755.51 L364.21,755.56 L366.21,755.62 L368.21,755.69 L370.21,755.78 L372.21,755.89 L374.21,756 L376.21,756.13 L378.21,756.28 L380.21,756.43 L382.21,756.59 L384.21,756.77 L386.21,756.95 L388.21,757.14 L390.21,757.34 L392.22,757.54 L394.22,757.75 L396.22,757.96 L398.23,758.18 L400.23,758.4 L402.24,758.62 L404.24,758.84 L406.25,759.07 L408.26,759.29 L410.26,759.52 L412.27,759.74 L414.28,759.96 L416.29,760.17 L418.3,760.38 L420.31,760.59 L422.33,760.79 L424.34,760.98 L426.35,761.17 L428.37,761.35 L430.38,761.52 L432.4,761.68 L434.42,761.82 L436.44,761.96 L438.46,762.09 L440.48,762.2 L442.5,762.31 L444.52,762.41 L446.54,762.51 L448.56,762.61 L450.58,762.7 L452.6,762.79 L454.61,762.89 L456.63,762.99 L458.64,763.1 L460.66,763.21 L462.67,763.33 L464.67,763.47 L466.68,763.62 L468.68,763.78 L470.68,763.96 L472.67,764.15 L474.66,764.37 L476.65,764.61 L478.63,764.87 L480.6,765.15 L482.58,765.47 L484.54,765.81 L486.5,766.18 L488.46,766.59 L490.41,767.03 L492.35,767.5 L494.28,768.01 L496.21,768.56 L498.13,769.15 L500.05,769.77 L501.96,770.43 L503.85,771.12 L505.75,771.84 L507.63,772.59 L509.5,773.36 L511.37,774.15 L513.23,774.96 L515.08,775.78 L516.92,776.62 L518.75,777.48 L520.57,778.34 L522.39,779.21 L524.2,780.07 L526.01,780.91 L527.84,781.72 L529.68,782.49 L531.54,783.21 L533.42,783.87 L535.32,784.48 L537.24,785.05 L539.17,785.58 L541.11,786.08 L543.07,786.56 L545.03,787.01 L547,787.44 L548.98,787.87 L550.96,788.29 L552.93,788.72 L554.9,789.15 L556.87,789.6 L558.83,790.06 L560.79,790.54 L562.74,791.04 L564.68,791.55 L566.62,792.08 L568.55,792.63 L570.47,793.21 L572.38,793.8 L574.29,794.42 L576.18,795.07 L578.07,795.73 L579.95,796.43 L581.81,797.15 L583.67,797.9 L585.52,798.68 L587.35,799.49 L589.17,800.33 L590.98,801.2 L592.78,802.11 L594.57,803.05 L596.35,804.02 L598.12,805.01 L599.89,805.99 L601.66,806.97 L603.44,807.93 L605.24,808.85 L607.05,809.73 L608.89,810.54 L610.76,811.28 L612.66,811.94 L614.6,812.5" fill="none" stroke="#5B9BD5" stroke-width="6.2" stroke-linecap="round" stroke-linejoin="round"/>
<path d="M77.6,978.3 L78.2,976.38 L78.79,974.46 L79.37,972.54 L79.94,970.62 L80.49,968.69 L81.03,966.75 L81.56,964.82 L82.08,962.88 L82.59,960.94 L83.09,959 L83.58,957.05 L84.06,955.1 L84.53,953.15 L84.99,951.2 L85.44,949.25 L85.88,947.29 L86.32,945.33 L86.75,943.37 L87.17,941.41 L87.59,939.44 L88,937.48 L88.4,935.51 L88.8,933.54 L89.19,931.57 L89.58,929.6 L89.97,927.62 L90.35,925.65 L90.72,923.68 L91.1,921.7 L91.47,919.72 L91.83,917.75 L92.2,915.77 L92.56,913.79 L92.93,911.81 L93.29,909.83 L93.65,907.85 L94.01,905.87 L94.37,903.9 L94.73,901.92 L95.09,899.94 L95.45,897.96 L95.82,895.98 L96.18,894 L96.55,892.02 L96.92,890.05 L97.29,888.07 L97.67,886.09 L98.05,884.12 L98.43,882.15 L98.82,880.17 L99.22,878.2 L99.61,876.23 L100.02,874.26 L100.43,872.29 L100.84,870.33 L101.27,868.36 L101.7,866.4 L102.13,864.44 L102.58,862.48 L103.03,860.52 L103.49,858.57 L103.96,856.62 L104.44,854.67 L104.93,852.72 L105.43,850.77 L105.94,848.83 L106.45,846.89 L106.98,844.95 L107.51,843.01 L108.05,841.07 L108.59,839.14 L109.15,837.21 L109.71,835.28 L110.28,833.35 L110.85,831.43 L111.43,829.5 L112.01,827.58 L112.6,825.65 L113.19,823.73 L113.79,821.81 L114.39,819.9 L115,817.98 L115.6,816.06 L116.21,814.15 L116.83,812.23 L117.44,810.32 L118.06,808.4 L118.68,806.49 L119.3,804.58 L119.91,802.67 L120.53,800.76 L121.15,798.85 L121.77,796.94 L122.39,795.02 L123.01,793.11 L123.63,791.2 L124.24,789.29 L124.85,787.38 L125.47,785.47 L126.07,783.56 L126.68,781.65 L127.28,779.74 L127.88,777.83 L128.47,775.92 L129.08,774.01 L129.69,772.11 L130.32,770.21 L130.96,768.32 L131.62,766.43 L132.3,764.56 L133.01,762.69 L133.76,760.84 L134.53,759 L135.35,757.17 L136.21,755.37 L137.11,753.57 L138.06,751.8 L139.06,750.04 L140.1,748.31 L141.19,746.61 L142.33,744.93 L143.5,743.28 L144.72,741.66 L145.97,740.07 L147.26,738.53 L148.58,737.01 L149.94,735.54 L151.33,734.09 L152.75,732.68 L154.19,731.29 L155.66,729.93 L157.15,728.59 L158.67,727.27 L160.2,725.98 L161.75,724.7 L163.31,723.44 L164.89,722.19 L166.48,720.96 L168.08,719.73 L169.69,718.52 L171.3,717.3 L172.91,716.1 L174.53,714.89 L176.15,713.68 L177.76,712.47 L179.37,711.26 L180.98,710.05 L182.58,708.83 L184.19,707.62 L185.79,706.4 L187.4,705.19 L189,703.98 L190.62,702.78 L192.23,701.58 L193.85,700.39 L195.48,699.21 L197.11,698.03 L198.75,696.87 L200.4,695.71 L202.05,694.57 L203.72,693.45 L205.4,692.33 L207.09,691.24 L208.8,690.16 L210.52,689.1 L212.26,688.06 L214.01,687.03 L215.77,686.04 L217.56,685.07 L219.35,684.14 L221.17,683.25 L222.99,682.41 L224.83,681.62 L226.69,680.88 L228.56,680.2 L230.44,679.59 L232.34,679.05 L234.25,678.59 L236.17,678.2 L238.1,677.91 L240.05,677.7 L242,677.59 L243.97,677.56 L245.95,677.62 L247.94,677.74 L249.93,677.93 L251.93,678.17 L253.94,678.45 L255.96,678.77 L257.97,679.12 L260,679.48 L262.02,679.86 L264.04,680.23 L266.07,680.6 L268.09,680.96 L270.12,681.29 L272.14,681.58 L274.16,681.84 L276.17,682.04 L278.18,682.19 L280.19,682.26 L282.19,682.27 L284.18,682.22 L286.17,682.11 L288.15,681.95 L290.13,681.75 L292.12,681.51 L294.1,681.25 L296.08,680.97 L298.06,680.68 L300.05,680.39 L302.04,680.09 L304.03,679.8 L306.02,679.52 L308.02,679.25 L310.02,678.99 L312.03,678.73 L314.03,678.5 L316.04,678.28 L318.04,678.07 L320.05,677.88 L322.06,677.72 L324.07,677.57 L326.07,677.45 L328.08,677.36 L330.09,677.29 L332.09,677.25 L334.09,677.24 L336.09,677.27 L338.09,677.32 L340.09,677.41 L342.08,677.54 L344.07,677.7 L346.06,677.89 L348.05,678.11 L350.03,678.36 L352.01,678.64 L353.98,678.96 L355.95,679.3 L357.92,679.67 L359.88,680.07 L361.84,680.49 L363.79,680.95 L365.74,681.42 L367.69,681.93 L369.63,682.46 L371.57,683.01 L373.5,683.58 L375.42,684.18 L377.34,684.8 L379.25,685.44 L381.16,686.1 L383.06,686.79 L384.96,687.49 L386.85,688.21 L388.73,688.95 L390.61,689.7 L392.48,690.48 L394.35,691.26 L396.2,692.07 L398.05,692.89 L399.89,693.72 L401.73,694.57 L403.56,695.43 L405.38,696.3 L407.19,697.19 L408.99,698.08 L410.79,698.99 L412.58,699.9 L414.36,700.82 L416.14,701.75 L417.92,702.69 L419.69,703.63 L421.46,704.57 L423.22,705.52 L424.98,706.47 L426.74,707.42 L428.5,708.37 L430.27,709.31 L432.03,710.26 L433.79,711.2 L435.55,712.14 L437.32,713.08 L439.09,714 L440.86,714.92 L442.64,715.84 L444.43,716.74 L446.22,717.63 L448.01,718.52 L449.81,719.38 L451.63,720.24 L453.44,721.08 L455.27,721.91 L457.11,722.72 L458.96,723.52 L460.81,724.29 L462.68,725.05 L464.56,725.8 L466.44,726.53 L468.33,727.25 L470.23,727.97 L472.13,728.67 L474.03,729.38 L475.93,730.08 L477.83,730.78 L479.73,731.49 L481.63,732.19 L483.53,732.91 L485.41,733.63 L487.3,734.36 L489.17,735.11 L491.04,735.86 L492.89,736.64 L494.73,737.43 L496.56,738.25 L498.38,739.09 L500.17,739.96 L501.94,740.86 L503.68,741.81 L505.39,742.81 L507.06,743.87 L508.69,744.98 L510.28,746.16 L511.83,747.4 L513.33,748.69 L514.8,750.04 L516.24,751.44 L517.64,752.87 L519.02,754.34 L520.38,755.85 L521.71,757.38 L523.02,758.94 L524.33,760.5 L525.64,762.06 L526.96,763.61 L528.29,765.14 L529.65,766.64 L531.04,768.11 L532.46,769.52 L533.93,770.88 L535.46,772.17 L537.04,773.38 L538.7,774.5" fill="none" stroke="#000000" stroke-width="6.2" stroke-linecap="round" stroke-linejoin="round"/>
<path d="M77.6,978.3 L77.82,976.3 L78.05,974.31 L78.26,972.31 L78.48,970.31 L78.7,968.32 L78.91,966.32 L79.12,964.32 L79.33,962.32 L79.54,960.32 L79.75,958.32 L79.96,956.32 L80.17,954.32 L80.38,952.32 L80.59,950.32 L80.8,948.32 L81.01,946.32 L81.22,944.32 L81.44,942.32 L81.65,940.32 L81.87,938.32 L82.09,936.32 L82.32,934.32 L82.55,932.32 L82.78,930.33 L83.01,928.33 L83.25,926.33 L83.5,924.34 L83.74,922.34 L84,920.35 L84.25,918.35 L84.52,916.36 L84.79,914.37 L85.06,912.38 L85.34,910.39 L85.63,908.4 L85.92,906.41 L86.23,904.42 L86.53,902.44 L86.85,900.45 L87.18,898.47 L87.51,896.49 L87.85,894.51 L88.2,892.53 L88.56,890.55 L88.93,888.57 L89.3,886.6 L89.68,884.63 L90.07,882.66 L90.47,880.68 L90.88,878.71 L91.29,876.75 L91.7,874.78 L92.12,872.81 L92.55,870.85 L92.98,868.88 L93.42,866.92 L93.86,864.96 L94.31,862.99 L94.75,861.03 L95.21,859.07 L95.66,857.11 L96.12,855.15 L96.58,853.19 L97.04,851.24 L97.5,849.28 L97.97,847.32 L98.43,845.36 L98.9,843.4 L99.36,841.45 L99.83,839.49 L100.3,837.53 L100.76,835.58 L101.22,833.62 L101.69,831.66 L102.15,829.71 L102.6,827.75 L103.06,825.79 L103.51,823.84 L103.97,821.88 L104.42,819.92 L104.87,817.96 L105.32,816.01 L105.76,814.05 L106.21,812.09 L106.66,810.14 L107.1,808.18 L107.55,806.22 L107.99,804.26 L108.44,802.31 L108.89,800.35 L109.33,798.39 L109.78,796.44 L110.23,794.48 L110.67,792.53 L111.12,790.57 L111.57,788.62 L112.03,786.66 L112.48,784.71 L112.93,782.75 L113.39,780.8 L113.85,778.84 L114.31,776.89 L114.78,774.94 L115.24,772.99 L115.71,771.04 L116.19,769.08 L116.66,767.13 L117.14,765.18 L117.63,763.24 L118.11,761.29 L118.6,759.34 L119.1,757.39 L119.6,755.44 L120.1,753.5 L120.61,751.55 L121.12,749.61 L121.64,747.67 L122.16,745.72 L122.69,743.78 L123.22,741.84 L123.76,739.9 L124.3,737.96 L124.85,736.02 L125.41,734.08 L125.97,732.15 L126.54,730.22 L127.12,728.28 L127.7,726.35 L128.29,724.42 L128.89,722.5 L129.49,720.58 L130.1,718.65 L130.72,716.74 L131.35,714.82 L131.98,712.91 L132.63,711 L133.28,709.09 L133.94,707.19 L134.61,705.29 L135.28,703.39 L135.97,701.5 L136.67,699.61 L137.37,697.73 L138.09,695.85 L138.81,693.97 L139.55,692.1 L140.29,690.23 L141.04,688.37 L141.81,686.51 L142.59,684.66 L143.37,682.81 L144.17,680.97 L144.98,679.14 L145.8,677.31 L146.63,675.48 L147.47,673.66 L148.33,671.85 L149.19,670.04 L150.07,668.24 L150.96,666.45 L151.86,664.66 L152.78,662.88 L153.71,661.11 L154.65,659.34 L155.61,657.59 L156.57,655.83 L157.56,654.09 L158.55,652.35 L159.55,650.62 L160.57,648.89 L161.59,647.17 L162.62,645.45 L163.66,643.74 L164.7,642.03 L165.75,640.31 L166.8,638.6 L167.85,636.89 L168.9,635.17 L169.94,633.46 L170.99,631.74 L172.03,630.01 L173.07,628.29 L174.1,626.55 L175.12,624.81 L176.14,623.07 L177.14,621.31 L178.14,619.55 L179.12,617.78 L180.09,616 L181.04,614.2 L181.99,612.4 L182.93,610.6 L183.86,608.79 L184.8,606.98 L185.75,605.18 L186.7,603.38 L187.67,601.6 L188.66,599.82 L189.67,598.06 L190.71,596.32 L191.78,594.6 L192.89,592.9 L194.03,591.23 L195.22,589.59 L196.45,587.98 L197.74,586.4 L199.08,584.88 L200.47,583.41 L201.91,582.02 L203.41,580.71 L204.95,579.51 L206.55,578.41 L208.2,577.44 L209.89,576.61 L211.64,575.94 L213.44,575.42 L215.28,575.08 L217.17,574.89 L219.1,574.84 L221.05,574.91 L223.03,575.08 L225.04,575.35 L227.05,575.69 L229.08,576.09 L231.11,576.54 L233.13,577.01 L235.15,577.5 L237.17,578.02 L239.17,578.56 L241.17,579.13 L243.15,579.72 L245.12,580.34 L247.08,580.99 L249.02,581.67 L250.94,582.38 L252.85,583.12 L254.73,583.9 L256.59,584.7 L258.43,585.55 L260.25,586.43 L262.04,587.34 L263.8,588.3 L265.53,589.29 L267.23,590.33 L268.9,591.4 L270.54,592.52 L272.14,593.68 L273.7,594.89 L275.23,596.13 L276.73,597.42 L278.19,598.75 L279.62,600.11 L281.02,601.52 L282.38,602.95 L283.72,604.42 L285.02,605.93 L286.29,607.46 L287.54,609.02 L288.75,610.61 L289.94,612.23 L291.1,613.87 L292.23,615.54 L293.34,617.23 L294.42,618.93 L295.48,620.66 L296.52,622.41 L297.53,624.17 L298.53,625.94 L299.52,627.71 L300.5,629.5 L301.48,631.28 L302.46,633.06 L303.45,634.83 L304.44,636.6 L305.45,638.35 L306.48,640.09 L307.53,641.81 L308.6,643.51 L309.71,645.18 L310.84,646.82 L312.02,648.43 L313.24,650.01 L314.5,651.54 L315.81,653.04 L317.18,654.49 L318.6,655.89 L320.06,657.26 L321.57,658.59 L323.11,659.89 L324.69,661.16 L326.3,662.4 L327.92,663.62 L329.57,664.82 L331.23,666 L332.9,667.17 L334.58,668.33 L336.25,669.49 L337.92,670.64 L339.58,671.8 L341.23,672.96 L342.86,674.12 L344.47,675.3 L346.05,676.49 L347.6,677.7" fill="none" stroke="#FF0000" stroke-width="6.2" stroke-linecap="round" stroke-linejoin="round"/>
</g>
<rect x="343" y="832" width="296" height="111" fill="#fff"/>
<line x1="356.4" y1="853.4" x2="401.3" y2="853.4" stroke="#5B9BD5" stroke-width="6.2" stroke-linecap="round"/>
<text x="408.6" y="859.5" class="lg">B1 (P. Length = 60Phi)</text>
<line x1="356.4" y1="889.6" x2="401.3" y2="889.6" stroke="#000000" stroke-width="6.2" stroke-linecap="round"/>
<text x="408.6" y="895.7" class="lg">B2 (P. Length =80Phi)</text>
<line x1="356.4" y1="925.3" x2="401.3" y2="925.3" stroke="#FF0000" stroke-width="6.2" stroke-linecap="round"/>
<text x="408.6" y="931.4" class="lg">B3 (P. Length = 100Phi)</text>
<text x="58.2" y="988.7" class="tk" text-anchor="end">0</text>
<text x="58.2" y="959.19" class="tk" text-anchor="end">10</text>
<text x="58.2" y="929.68" class="tk" text-anchor="end">20</text>
<text x="58.2" y="900.17" class="tk" text-anchor="end">30</text>
<text x="58.2" y="870.66" class="tk" text-anchor="end">40</text>
<text x="58.2" y="841.15" class="tk" text-anchor="end">50</text>
<text x="58.2" y="811.64" class="tk" text-anchor="end">60</text>
<text x="58.2" y="782.13" class="tk" text-anchor="end">70</text>
<text x="58.2" y="752.62" class="tk" text-anchor="end">80</text>
<text x="58.2" y="723.11" class="tk" text-anchor="end">90</text>
<text x="58.2" y="693.6" class="tk" text-anchor="end">100</text>
<text x="58.2" y="664.09" class="tk" text-anchor="end">110</text>
<text x="58.2" y="634.58" class="tk" text-anchor="end">120</text>
<text x="58.2" y="605.07" class="tk" text-anchor="end">130</text>
<text x="58.2" y="575.56" class="tk" text-anchor="end">140</text>
<text x="77.6" y="1011.9" class="tk" text-anchor="middle">0</text>
<text x="137.26" y="1011.9" class="tk" text-anchor="middle">2</text>
<text x="196.92" y="1011.9" class="tk" text-anchor="middle">4</text>
<text x="256.58" y="1011.9" class="tk" text-anchor="middle">6</text>
<text x="316.24" y="1011.9" class="tk" text-anchor="middle">8</text>
<text x="375.9" y="1011.9" class="tk" text-anchor="middle">10</text>
<text x="435.56" y="1011.9" class="tk" text-anchor="middle">12</text>
<text x="495.22" y="1011.9" class="tk" text-anchor="middle">14</text>
<text x="554.88" y="1011.9" class="tk" text-anchor="middle">16</text>
<text x="614.54" y="1011.9" class="tk" text-anchor="middle">18</text>
<text x="674.2" y="1011.9" class="tk" text-anchor="middle">20</text>
<text x="263.7" y="1040.6" class="ti">Mid-span deflection, mm</text>
<text transform="translate(17.8,826.4) rotate(-90)" x="0" y="0" class="ti">Load, kN</text>
<text x="283.9" y="1085.2" class="cp" font-size="27.5">(b) Group G<tspan font-size="17.5" dy="5">II</tspan></text>
<line x1="72.5" y1="1535.6" x2="674.3" y2="1535.6" stroke="#808080" stroke-width="2" stroke-dasharray="1.87 1.87"/>
<line x1="72.5" y1="1476.66" x2="674.3" y2="1476.66" stroke="#808080" stroke-width="2" stroke-dasharray="1.87 1.87"/>
<line x1="72.5" y1="1417.72" x2="674.3" y2="1417.72" stroke="#808080" stroke-width="2" stroke-dasharray="1.87 1.87"/>
<line x1="72.5" y1="1358.78" x2="674.3" y2="1358.78" stroke="#808080" stroke-width="2" stroke-dasharray="1.87 1.87"/>
<line x1="72.5" y1="1299.84" x2="674.3" y2="1299.84" stroke="#808080" stroke-width="2" stroke-dasharray="1.87 1.87"/>
<line x1="72.5" y1="1240.9" x2="674.3" y2="1240.9" stroke="#808080" stroke-width="2" stroke-dasharray="1.87 1.87"/>
<line x1="72.5" y1="1181.96" x2="674.3" y2="1181.96" stroke="#808080" stroke-width="2" stroke-dasharray="1.87 1.87"/>
<line x1="72.5" y1="1123.02" x2="674.3" y2="1123.02" stroke="#808080" stroke-width="2" stroke-dasharray="1.87 1.87"/>
<line x1="132.68" y1="1123.02" x2="132.68" y2="1535.6" stroke="#808080" stroke-width="2" stroke-dasharray="1.87 1.87"/>
<line x1="192.86" y1="1123.02" x2="192.86" y2="1535.6" stroke="#808080" stroke-width="2" stroke-dasharray="1.87 1.87"/>
<line x1="253.04" y1="1123.02" x2="253.04" y2="1535.6" stroke="#808080" stroke-width="2" stroke-dasharray="1.87 1.87"/>
<line x1="313.22" y1="1123.02" x2="313.22" y2="1535.6" stroke="#808080" stroke-width="2" stroke-dasharray="1.87 1.87"/>
<line x1="373.4" y1="1123.02" x2="373.4" y2="1535.6" stroke="#808080" stroke-width="2" stroke-dasharray="1.87 1.87"/>
<line x1="433.58" y1="1123.02" x2="433.58" y2="1535.6" stroke="#808080" stroke-width="2" stroke-dasharray="1.87 1.87"/>
<line x1="493.76" y1="1123.02" x2="493.76" y2="1535.6" stroke="#808080" stroke-width="2" stroke-dasharray="1.87 1.87"/>
<line x1="553.94" y1="1123.02" x2="553.94" y2="1535.6" stroke="#808080" stroke-width="2" stroke-dasharray="1.87 1.87"/>
<line x1="614.12" y1="1123.02" x2="614.12" y2="1535.6" stroke="#808080" stroke-width="2" stroke-dasharray="1.87 1.87"/>
<line x1="674.3" y1="1123.02" x2="674.3" y2="1535.6" stroke="#808080" stroke-width="2" stroke-dasharray="1.87 1.87"/>
<line x1="72.5" y1="1123.02" x2="72.5" y2="1535.6" stroke="#808080" stroke-width="2" stroke-dasharray="1.87 1.87"/>
<line x1="72.5" y1="1131.02" x2="72.5" y2="1535.6" stroke="#000" stroke-width="1.3"/>
<line x1="72.5" y1="1535.6" x2="666.3" y2="1535.6" stroke="#000" stroke-width="1.1"/>
<path d="M65.5,1535.6 L90,1528.6 L81,1535.6 L90,1542.6 Z"/>
<path d="M65.5,1476.66 L90,1469.66 L81,1476.66 L90,1483.66 Z"/>
<path d="M65.5,1417.72 L90,1410.72 L81,1417.72 L90,1424.72 Z"/>
<path d="M65.5,1358.78 L90,1351.78 L81,1358.78 L90,1365.78 Z"/>
<path d="M65.5,1299.84 L90,1292.84 L81,1299.84 L90,1306.84 Z"/>
<path d="M65.5,1240.9 L90,1233.9 L81,1240.9 L90,1247.9 Z"/>
<path d="M65.5,1181.96 L90,1174.96 L81,1181.96 L90,1188.96 Z"/>
<path d="M65.5,1123.02 L90,1116.02 L81,1123.02 L90,1130.02 Z"/>
<path d="M72.5,1529.1 L65.3,1552.6 L72.5,1544.1 L79.7,1552.6 Z"/>
<path d="M132.68,1529.1 L125.48,1552.6 L132.68,1544.1 L139.88,1552.6 Z"/>
<path d="M192.86,1529.1 L185.66,1552.6 L192.86,1544.1 L200.06,1552.6 Z"/>
<path d="M253.04,1529.1 L245.84,1552.6 L253.04,1544.1 L260.24,1552.6 Z"/>
<path d="M313.22,1529.1 L306.02,1552.6 L313.22,1544.1 L320.42,1552.6 Z"/>
<path d="M373.4,1529.1 L366.2,1552.6 L373.4,1544.1 L380.6,1552.6 Z"/>
<path d="M433.58,1529.1 L426.38,1552.6 L433.58,1544.1 L440.78,1552.6 Z"/>
<path d="M493.76,1529.1 L486.56,1552.6 L493.76,1544.1 L500.96,1552.6 Z"/>
<path d="M553.94,1529.1 L546.74,1552.6 L553.94,1544.1 L561.14,1552.6 Z"/>
<path d="M614.12,1529.1 L606.92,1552.6 L614.12,1544.1 L621.32,1552.6 Z"/>
<path d="M674.3,1529.1 L667.1,1552.6 L674.3,1544.1 L681.5,1552.6 Z"/>
<path d="M72.5,1123.72 L65,1147.72 L72.5,1138.72 L80,1147.72 Z"/>
<path d="M673.6,1535.6 L649.6,1528.6 L658.6,1535.6 L649.6,1542.6 Z"/>
<clipPath id="cc"><rect x="72.5" y="1120.02" width="604.8" height="415.58"/></clipPath>
<g clip-path="url(#cc)">
<path d="M72.5,1535.6 L74.33,1534.62 L75.97,1533.47 L77.44,1532.17 L78.77,1530.75 L79.96,1529.2 L81.05,1527.56 L82.04,1525.84 L82.96,1524.04 L83.82,1522.2 L84.64,1520.32 L85.44,1518.41 L86.25,1516.5 L87.07,1514.61 L87.93,1512.74 L88.84,1510.9 L89.79,1509.1 L90.78,1507.33 L91.8,1505.59 L92.84,1503.86 L93.91,1502.15 L94.98,1500.45 L96.06,1498.76 L97.15,1497.07 L98.22,1495.38 L99.28,1493.68 L100.32,1491.97 L101.34,1490.25 L102.33,1488.51 L103.3,1486.76 L104.25,1485 L105.19,1483.23 L106.1,1481.44 L107,1479.65 L107.88,1477.85 L108.75,1476.04 L109.61,1474.22 L110.46,1472.4 L111.3,1470.57 L112.14,1468.74 L112.96,1466.9 L113.79,1465.07 L114.61,1463.23 L115.43,1461.39 L116.26,1459.55 L117.08,1457.72 L117.91,1455.88 L118.75,1454.05 L119.59,1452.22 L120.44,1450.4 L121.29,1448.58 L122.16,1446.77 L123.04,1444.97 L123.93,1443.17 L124.83,1441.37 L125.74,1439.59 L126.66,1437.81 L127.6,1436.04 L128.56,1434.28 L129.53,1432.53 L130.51,1430.79 L131.51,1429.05 L132.53,1427.33 L133.57,1425.62 L134.62,1423.92 L135.7,1422.23 L136.8,1420.55 L137.91,1418.89 L139.05,1417.23 L140.21,1415.59 L141.37,1413.95 L142.55,1412.32 L143.74,1410.7 L144.93,1409.07 L146.11,1407.44 L147.3,1405.81 L148.48,1404.18 L149.64,1402.54 L150.8,1400.89 L151.93,1399.22 L153.05,1397.55 L154.15,1395.86 L155.22,1394.16 L156.29,1392.45 L157.34,1390.73 L158.39,1389.02 L159.43,1387.29 L160.48,1385.57 L161.52,1383.86 L162.57,1382.15 L163.63,1380.44 L164.71,1378.75 L165.79,1377.06 L166.9,1375.4 L168.03,1373.74 L169.19,1372.11 L170.37,1370.5 L171.59,1368.92 L172.84,1367.35 L174.13,1365.82 L175.46,1364.32 L176.84,1362.85 L178.27,1361.44 L179.74,1360.08 L181.27,1358.8 L182.86,1357.6 L184.5,1356.5 L186.18,1355.48 L187.91,1354.51 L189.66,1353.58 L191.43,1352.67 L193.2,1351.75 L194.97,1350.82 L196.74,1349.88 L198.51,1348.92 L200.28,1347.95 L202.04,1346.97 L203.81,1345.99 L205.58,1345.01 L207.36,1344.02 L209.13,1343.04 L210.91,1342.07 L212.69,1341.1 L214.48,1340.14 L216.27,1339.2 L218.06,1338.27 L219.87,1337.36 L221.68,1336.46 L223.5,1335.6 L225.32,1334.75 L227.16,1333.94 L229,1333.15 L230.86,1332.4 L232.72,1331.69 L234.6,1331.01 L236.49,1330.37 L238.39,1329.76 L240.3,1329.19 L242.21,1328.64 L244.14,1328.13 L246.07,1327.64 L248.01,1327.17 L249.96,1326.73 L251.91,1326.31 L253.88,1325.9 L255.84,1325.52 L257.81,1325.15 L259.79,1324.79 L261.77,1324.45 L263.75,1324.11 L265.73,1323.78 L267.72,1323.46 L269.71,1323.14 L271.7,1322.83 L273.69,1322.51 L275.68,1322.2 L277.67,1321.88 L279.66,1321.56 L281.65,1321.23 L283.64,1320.9 L285.63,1320.57 L287.62,1320.24 L289.61,1319.91 L291.59,1319.57 L293.58,1319.24 L295.57,1318.92 L297.56,1318.59 L299.54,1318.27 L301.53,1317.95 L303.52,1317.64 L305.51,1317.33 L307.5,1317.03 L309.49,1316.73 L311.48,1316.44 L313.47,1316.17 L315.46,1315.9 L317.45,1315.64 L319.44,1315.39 L321.44,1315.15 L323.43,1314.92 L325.43,1314.71 L327.42,1314.51 L329.42,1314.33 L331.42,1314.16 L333.42,1314 L335.42,1313.87 L337.42,1313.75 L339.43,1313.64 L341.43,1313.55 L343.44,1313.48 L345.45,1313.42 L347.46,1313.38 L349.47,1313.35 L351.48,1313.34 L353.49,1313.34 L355.5,1313.35 L357.51,1313.37 L359.52,1313.41 L361.53,1313.46 L363.54,1313.52 L365.55,1313.59 L367.56,1313.67 L369.57,1313.76 L371.58,1313.86 L373.58,1313.98 L375.59,1314.1 L377.59,1314.22 L379.6,1314.36 L381.6,1314.5 L383.6,1314.65 L385.61,1314.81 L387.61,1314.98 L389.61,1315.15 L391.61,1315.33 L393.61,1315.51 L395.61,1315.69 L397.61,1315.89 L399.6,1316.08 L401.6,1316.28 L403.6,1316.48 L405.6,1316.69 L407.59,1316.9 L409.59,1317.11 L411.59,1317.32 L413.58,1317.53 L415.58,1317.75 L417.58,1317.96 L419.57,1318.18 L421.57,1318.39 L423.57,1318.61 L425.57,1318.82 L427.56,1319.04 L429.56,1319.25 L431.56,1319.45 L433.56,1319.66 L435.56,1319.86 L437.56,1320.07 L439.56,1320.27 L441.56,1320.47 L443.56,1320.67 L445.56,1320.87 L447.56,1321.08 L449.55,1321.29 L451.55,1321.5 L453.55,1321.72 L455.55,1321.95 L457.54,1322.18 L459.53,1322.42 L461.53,1322.68 L463.52,1322.94 L465.51,1323.21 L467.5,1323.49 L469.48,1323.79 L471.47,1324.1 L473.45,1324.43 L475.43,1324.77 L477.41,1325.13 L479.38,1325.5 L481.35,1325.89 L483.32,1326.29 L485.28,1326.71 L487.25,1327.14 L489.2,1327.59 L491.16,1328.06 L493.11,1328.54 L495.05,1329.04 L497,1329.55 L498.93,1330.09 L500.86,1330.63 L502.79,1331.2 L504.71,1331.78 L506.63,1332.38 L508.54,1332.99 L510.44,1333.63 L512.34,1334.28 L514.24,1334.95 L516.12,1335.63 L518,1336.34 L519.88,1337.06 L521.75,1337.79 L523.62,1338.52 L525.48,1339.26 L527.35,1340 L529.22,1340.72 L531.09,1341.44 L532.97,1342.15 L534.86,1342.83 L536.75,1343.49 L538.65,1344.12 L540.57,1344.71 L542.5,1345.27 L544.44,1345.8 L546.38,1346.31 L548.34,1346.8 L550.3,1347.27 L552.26,1347.72 L554.23,1348.18 L556.19,1348.63 L558.16,1349.08 L560.12,1349.54 L562.08,1350.02 L564.03,1350.51 L565.98,1351.02 L567.91,1351.57 L569.84,1352.14 L571.75,1352.75 L573.64,1353.4 L575.53,1354.1 L577.4,1354.83 L579.25,1355.6 L581.1,1356.39 L582.94,1357.21 L584.77,1358.05 L586.6,1358.91 L588.42,1359.77 L590.24,1360.65 L592.06,1361.52 L593.88,1362.4 L595.7,1363.27 L597.53,1364.12 L599.36,1364.96 L601.2,1365.78 L603.05,1366.58 L604.91,1367.35 L606.77,1368.08 L608.66,1368.78 L610.55,1369.44 L612.47,1370.04 L614.4,1370.6" fill="none" stroke="#5B9BD5" stroke-width="6.5" stroke-linecap="round" stroke-linejoin="round"/>
<path d="M72.5,1535.6 L74.49,1535.11 L76.33,1534.4 L78.05,1533.5 L79.64,1532.42 L81.13,1531.18 L82.53,1529.8 L83.84,1528.3 L85.08,1526.7 L86.27,1525.02 L87.41,1523.28 L88.52,1521.5 L89.61,1519.7 L90.69,1517.89 L91.78,1516.11 L92.88,1514.36 L93.98,1512.63 L95.1,1510.92 L96.22,1509.24 L97.35,1507.57 L98.48,1505.91 L99.61,1504.26 L100.74,1502.62 L101.87,1500.97 L102.99,1499.33 L104.11,1497.68 L105.22,1496.03 L106.34,1494.37 L107.45,1492.72 L108.57,1491.06 L109.69,1489.41 L110.83,1487.77 L111.97,1486.13 L113.14,1484.5 L114.32,1482.88 L115.52,1481.28 L116.74,1479.69 L117.99,1478.13 L119.26,1476.58 L120.57,1475.05 L121.91,1473.55 L123.29,1472.08 L124.71,1470.63 L126.14,1469.2 L127.6,1467.78 L129.07,1466.37 L130.53,1464.96 L131.99,1463.55 L133.43,1462.13 L134.85,1460.7 L136.24,1459.24 L137.58,1457.76 L138.88,1456.24 L140.11,1454.68 L141.28,1453.09 L142.38,1451.44 L143.4,1449.74 L144.35,1447.99 L145.24,1446.2 L146.08,1444.38 L146.89,1442.54 L147.68,1440.67 L148.44,1438.79 L149.21,1436.91 L149.98,1435.02 L150.76,1433.14 L151.57,1431.27 L152.42,1429.43 L153.32,1427.6 L154.28,1425.81 L155.29,1424.06 L156.37,1422.36 L157.51,1420.71 L158.72,1419.11 L159.99,1417.58 L161.35,1416.12 L162.77,1414.74 L164.28,1413.45 L165.86,1412.25 L167.53,1411.14 L169.26,1410.12 L171.06,1409.17 L172.89,1408.27 L174.74,1407.41 L176.6,1406.57 L178.45,1405.72 L180.27,1404.85 L182.05,1403.95 L183.78,1403 L185.44,1401.98 L187.04,1400.89 L188.58,1399.73 L190.08,1398.51 L191.55,1397.24 L193.01,1395.93 L194.46,1394.58 L195.9,1393.2 L197.34,1391.79 L198.77,1390.35 L200.21,1388.9 L201.64,1387.44 L203.08,1385.97 L204.52,1384.5 L205.97,1383.02 L207.42,1381.56 L208.89,1380.1 L210.36,1378.66 L211.85,1377.24 L213.36,1375.85 L214.88,1374.49 L216.41,1373.16 L217.97,1371.88 L219.55,1370.64 L221.16,1369.45 L222.79,1368.31 L224.44,1367.24 L226.13,1366.23 L227.85,1365.28 L229.59,1364.4 L231.36,1363.58 L233.16,1362.82 L234.98,1362.11 L236.83,1361.45 L238.7,1360.84 L240.58,1360.27 L242.49,1359.74 L244.41,1359.24 L246.34,1358.77 L248.29,1358.33 L250.26,1357.92 L252.23,1357.52 L254.21,1357.14 L256.2,1356.78 L258.2,1356.42 L260.2,1356.06 L262.2,1355.71 L264.21,1355.36 L266.21,1355 L268.22,1354.63 L270.22,1354.24 L272.22,1353.84 L274.21,1353.42 L276.19,1352.97 L278.17,1352.5 L280.14,1352 L282.1,1351.47 L284.05,1350.92 L285.99,1350.35 L287.93,1349.77 L289.87,1349.18 L291.8,1348.57 L293.72,1347.96 L295.65,1347.35 L297.57,1346.73 L299.49,1346.12 L301.41,1345.52 L303.33,1344.92 L305.26,1344.33 L307.18,1343.76 L309.11,1343.2 L311.04,1342.67 L312.97,1342.15 L314.91,1341.67 L316.85,1341.21 L318.8,1340.77 L320.75,1340.36 L322.71,1339.97 L324.67,1339.61 L326.64,1339.28 L328.6,1338.97 L330.58,1338.68 L332.55,1338.41 L334.53,1338.17 L336.51,1337.95 L338.5,1337.75 L340.48,1337.58 L342.47,1337.43 L344.47,1337.3 L346.46,1337.19 L348.46,1337.1 L350.46,1337.03 L352.46,1336.98 L354.46,1336.95 L356.46,1336.95 L358.47,1336.96 L360.47,1336.99 L362.48,1337.04 L364.49,1337.11 L366.5,1337.2 L368.51,1337.31 L370.52,1337.43 L372.53,1337.57 L374.54,1337.73 L376.54,1337.9 L378.55,1338.1 L380.56,1338.3 L382.57,1338.53 L384.58,1338.77 L386.59,1339.02 L388.59,1339.29 L390.6,1339.58 L392.6,1339.88 L394.6,1340.19 L396.6,1340.52 L398.6,1340.86 L400.59,1341.22 L402.58,1341.59 L404.57,1341.98 L406.56,1342.38 L408.54,1342.8 L410.51,1343.24 L412.48,1343.7 L414.44,1344.18 L416.4,1344.68 L418.34,1345.2 L420.28,1345.74 L422.21,1346.3 L424.13,1346.88 L426.05,1347.49 L427.95,1348.13 L429.84,1348.78 L431.71,1349.47 L433.58,1350.18 L435.43,1350.92 L437.27,1351.68 L439.1,1352.48 L440.91,1353.3 L442.71,1354.16 L444.49,1355.04 L446.26,1355.96 L448.01,1356.9 L449.74,1357.88 L451.46,1358.9 L453.16,1359.93 L454.85,1361 L456.52,1362.09 L458.18,1363.21 L459.83,1364.35 L461.46,1365.52 L463.08,1366.7 L464.7,1367.91 L466.3,1369.13 L467.89,1370.37 L469.48,1371.62 L471.05,1372.89 L472.62,1374.17 L474.19,1375.45 L475.76,1376.72 L477.33,1377.99 L478.92,1379.24 L480.51,1380.48 L482.12,1381.68 L483.76,1382.84 L485.41,1383.97 L487.1,1385.05 L488.82,1386.07 L490.57,1387.03 L492.36,1387.93 L494.18,1388.76 L496.03,1389.56 L497.89,1390.34 L499.75,1391.12 L501.6,1391.91 L503.44,1392.74 L505.25,1393.62 L507.02,1394.56 L508.74,1395.6 L510.41,1396.74 L512,1398" fill="none" stroke="#FF0000" stroke-width="6.5" stroke-linecap="round" stroke-linejoin="round"/>
<path d="M72.5,1535.6 L73.2,1533.72 L73.86,1531.83 L74.48,1529.92 L75.07,1528 L75.64,1526.07 L76.18,1524.14 L76.7,1522.19 L77.2,1520.24 L77.69,1518.29 L78.17,1516.33 L78.65,1514.37 L79.12,1512.41 L79.59,1510.46 L80.07,1508.5 L80.56,1506.54 L81.06,1504.6 L81.58,1502.65 L82.12,1500.72 L82.68,1498.79 L83.27,1496.87 L83.9,1494.96 L84.55,1493.07 L85.24,1491.19 L85.96,1489.32 L86.71,1487.45 L87.48,1485.6 L88.27,1483.75 L89.07,1481.91 L89.88,1480.07 L90.69,1478.23 L91.51,1476.39 L92.31,1474.55 L93.11,1472.71 L93.91,1470.87 L94.7,1469.02 L95.49,1467.17 L96.27,1465.32 L97.04,1463.47 L97.8,1461.61 L98.56,1459.76 L99.32,1457.89 L100.07,1456.03 L100.81,1454.16 L101.54,1452.29 L102.27,1450.42 L102.99,1448.54 L103.7,1446.66 L104.4,1444.78 L105.1,1442.89 L105.79,1441 L106.48,1439.11 L107.16,1437.21 L107.84,1435.32 L108.54,1433.44 L109.27,1431.56 L110.02,1429.71 L110.82,1427.87 L111.68,1426.06 L112.58,1424.27 L113.53,1422.51 L114.52,1420.77 L115.54,1419.04 L116.59,1417.33 L117.65,1415.62 L118.72,1413.92 L119.8,1412.22 L120.88,1410.52 L121.94,1408.81 L122.99,1407.1 L124.01,1405.37 L125,1403.63 L125.95,1401.87 L126.86,1400.08 L127.71,1398.27 L128.51,1396.43 L129.23,1394.55 L129.89,1392.64 L130.48,1390.7 L131.03,1388.74 L131.56,1386.77 L132.08,1384.8 L132.61,1382.84 L133.17,1380.9 L133.77,1378.99 L134.44,1377.12 L135.19,1375.3 L136.03,1373.53 L136.94,1371.81 L137.92,1370.13 L138.97,1368.49 L140.09,1366.89 L141.26,1365.32 L142.48,1363.78 L143.75,1362.26 L145.06,1360.77 L146.4,1359.3 L147.78,1357.84 L149.19,1356.4 L150.61,1354.96 L152.05,1353.53 L153.51,1352.11 L154.97,1350.69 L156.45,1349.27 L157.94,1347.87 L159.44,1346.49 L160.96,1345.12 L162.5,1343.77 L164.05,1342.45 L165.61,1341.15 L167.2,1339.88 L168.8,1338.65 L170.42,1337.45 L172.06,1336.29 L173.72,1335.17 L175.41,1334.09 L177.11,1333.06 L178.84,1332.06 L180.58,1331.11 L182.34,1330.2 L184.12,1329.32 L185.91,1328.48 L187.72,1327.67 L189.55,1326.89 L191.39,1326.15 L193.24,1325.43 L195.11,1324.75 L196.99,1324.09 L198.88,1323.46 L200.78,1322.85 L202.69,1322.27 L204.62,1321.71 L206.55,1321.17 L208.48,1320.65 L210.43,1320.15 L212.38,1319.66 L214.34,1319.19 L216.3,1318.74 L218.27,1318.29 L220.24,1317.86 L222.21,1317.43 L224.19,1317.02 L226.17,1316.61 L228.15,1316.2 L230.13,1315.8 L232.11,1315.4 L234.09,1315.01 L236.07,1314.61 L238.05,1314.21 L240.02,1313.82 L242,1313.42 L243.97,1313.03 L245.94,1312.64 L247.92,1312.25 L249.89,1311.87 L251.86,1311.49 L253.83,1311.11 L255.8,1310.74 L257.77,1310.38 L259.75,1310.01 L261.72,1309.66 L263.69,1309.31 L265.66,1308.97 L267.63,1308.63 L269.61,1308.31 L271.58,1307.99 L273.56,1307.67 L275.53,1307.37 L277.51,1307.08 L279.49,1306.8 L281.46,1306.53 L283.45,1306.26 L285.43,1306.01 L287.41,1305.78 L289.4,1305.55 L291.38,1305.34 L293.37,1305.14 L295.36,1304.95 L297.36,1304.77 L299.35,1304.62 L301.35,1304.47 L303.35,1304.34 L305.35,1304.22 L307.36,1304.12 L309.36,1304.03 L311.37,1303.95 L313.38,1303.89 L315.39,1303.83 L317.41,1303.78 L319.42,1303.75 L321.43,1303.72 L323.45,1303.7 L325.47,1303.68 L327.48,1303.68 L329.5,1303.68 L331.52,1303.69 L333.54,1303.7 L335.56,1303.71 L337.57,1303.73 L339.59,1303.75 L341.61,1303.78 L343.63,1303.81 L345.64,1303.83 L347.66,1303.86 L349.68,1303.89 L351.69,1303.92 L353.7,1303.94 L355.72,1303.97 L357.73,1303.99 L359.74,1304.02 L361.75,1304.04 L363.75,1304.06 L365.76,1304.09 L367.77,1304.11 L369.77,1304.14 L371.78,1304.17 L373.78,1304.2 L375.79,1304.23 L377.79,1304.27 L379.8,1304.31 L381.8,1304.35 L383.8,1304.4 L385.8,1304.45 L387.81,1304.51 L389.81,1304.57 L391.81,1304.64 L393.82,1304.71 L395.82,1304.79 L397.82,1304.88 L399.83,1304.98 L401.83,1305.08 L403.84,1305.19 L405.85,1305.31 L407.85,1305.43 L409.86,1305.57 L411.87,1305.72 L413.87,1305.88 L415.88,1306.06 L417.88,1306.26 L419.88,1306.48 L421.87,1306.73 L423.86,1307.02 L425.84,1307.35 L427.8,1307.71 L429.76,1308.12 L431.7,1308.58 L433.63,1309.09 L435.55,1309.66 L437.45,1310.28 L439.35,1310.94 L441.23,1311.64 L443.1,1312.37 L444.96,1313.13 L446.82,1313.91 L448.68,1314.7 L450.53,1315.5 L452.39,1316.31 L454.24,1317.11 L456.1,1317.9 L457.96,1318.67 L459.82,1319.42 L461.7,1320.15 L463.58,1320.84 L465.47,1321.49 L467.37,1322.09 L469.29,1322.64 L471.22,1323.14 L473.17,1323.57 L475.13,1323.95 L477.1,1324.27 L479.09,1324.54 L481.09,1324.77 L483.09,1324.97 L485.1,1325.14 L487.12,1325.28 L489.15,1325.4 L491.17,1325.51 L493.2,1325.61 L495.22,1325.72 L497.25,1325.82 L499.27,1325.93 L501.29,1326.05 L503.31,1326.18 L505.32,1326.32 L507.32,1326.49 L509.32,1326.67 L511.32,1326.89 L513.3,1327.13 L515.28,1327.4 L517.25,1327.72 L519.21,1328.06 L521.16,1328.46 L523.1,1328.89 L525.02,1329.38 L526.94,1329.92 L528.84,1330.51 L530.72,1331.17 L532.6,1331.87 L534.46,1332.63 L536.31,1333.43 L538.15,1334.27 L539.99,1335.12 L541.83,1336 L543.66,1336.88 L545.49,1337.77 L547.32,1338.64 L549.16,1339.5 L551.01,1340.34 L552.86,1341.14 L554.72,1341.91 L556.59,1342.62 L558.48,1343.28 L560.38,1343.88 L562.3,1344.4" fill="none" stroke="#000000" stroke-width="6.5" stroke-linecap="round" stroke-linejoin="round"/>
</g>
<rect x="324" y="1394" width="310" height="110" fill="#fff"/>
<line x1="362.1" y1="1414.6" x2="410.1" y2="1414.6" stroke="#5B9BD5" stroke-width="6.5" stroke-linecap="round"/>
<text x="415.6" y="1420.7" class="lg">B1 (3 pairs of bolts)</text>
<line x1="362.1" y1="1450.8" x2="410.1" y2="1450.8" stroke="#FF0000" stroke-width="6.5" stroke-linecap="round"/>
<text x="415.6" y="1456.9" class="lg">B4 (2 pairs of bolts)</text>
<line x1="362.1" y1="1487.2" x2="410.1" y2="1487.2" stroke="#000000" stroke-width="6.5" stroke-linecap="round"/>
<text x="415.6" y="1493.3" class="lg">B5 (4 pairs of bolts)</text>
<text x="53.1" y="1546" class="tk" text-anchor="end">0</text>
<text x="53.1" y="1487.06" class="tk" text-anchor="end">20</text>
<text x="53.1" y="1428.12" class="tk" text-anchor="end">40</text>
<text x="53.1" y="1369.18" class="tk" text-anchor="end">60</text>
<text x="53.1" y="1310.24" class="tk" text-anchor="end">80</text>
<text x="53.1" y="1251.3" class="tk" text-anchor="end">100</text>
<text x="53.1" y="1192.36" class="tk" text-anchor="end">120</text>
<text x="53.1" y="1133.42" class="tk" text-anchor="end">140</text>
<text x="72.5" y="1569.2" class="tk" text-anchor="middle">0</text>
<text x="132.68" y="1569.2" class="tk" text-anchor="middle">2</text>
<text x="192.86" y="1569.2" class="tk" text-anchor="middle">4</text>
<text x="253.04" y="1569.2" class="tk" text-anchor="middle">6</text>
<text x="313.22" y="1569.2" class="tk" text-anchor="middle">8</text>
<text x="373.4" y="1569.2" class="tk" text-anchor="middle">10</text>
<text x="433.58" y="1569.2" class="tk" text-anchor="middle">12</text>
<text x="493.76" y="1569.2" class="tk" text-anchor="middle">14</text>
<text x="553.94" y="1569.2" class="tk" text-anchor="middle">16</text>
<text x="614.12" y="1569.2" class="tk" text-anchor="middle">18</text>
<text x="674.3" y="1569.2" class="tk" text-anchor="middle">20</text>
<text x="263.6" y="1597.6" class="ti" font-weight="bold">Mid-span deflection, mm</text>
<text transform="translate(17.8,1389.6) rotate(-90)" x="0" y="0" class="ti" font-weight="bold">Load, kN</text>
<text x="275.9" y="1643.6" class="cp" font-size="28">(c) Group G<tspan font-size="16.8" dy="5">III</tspan></text>
</svg></body></html>
